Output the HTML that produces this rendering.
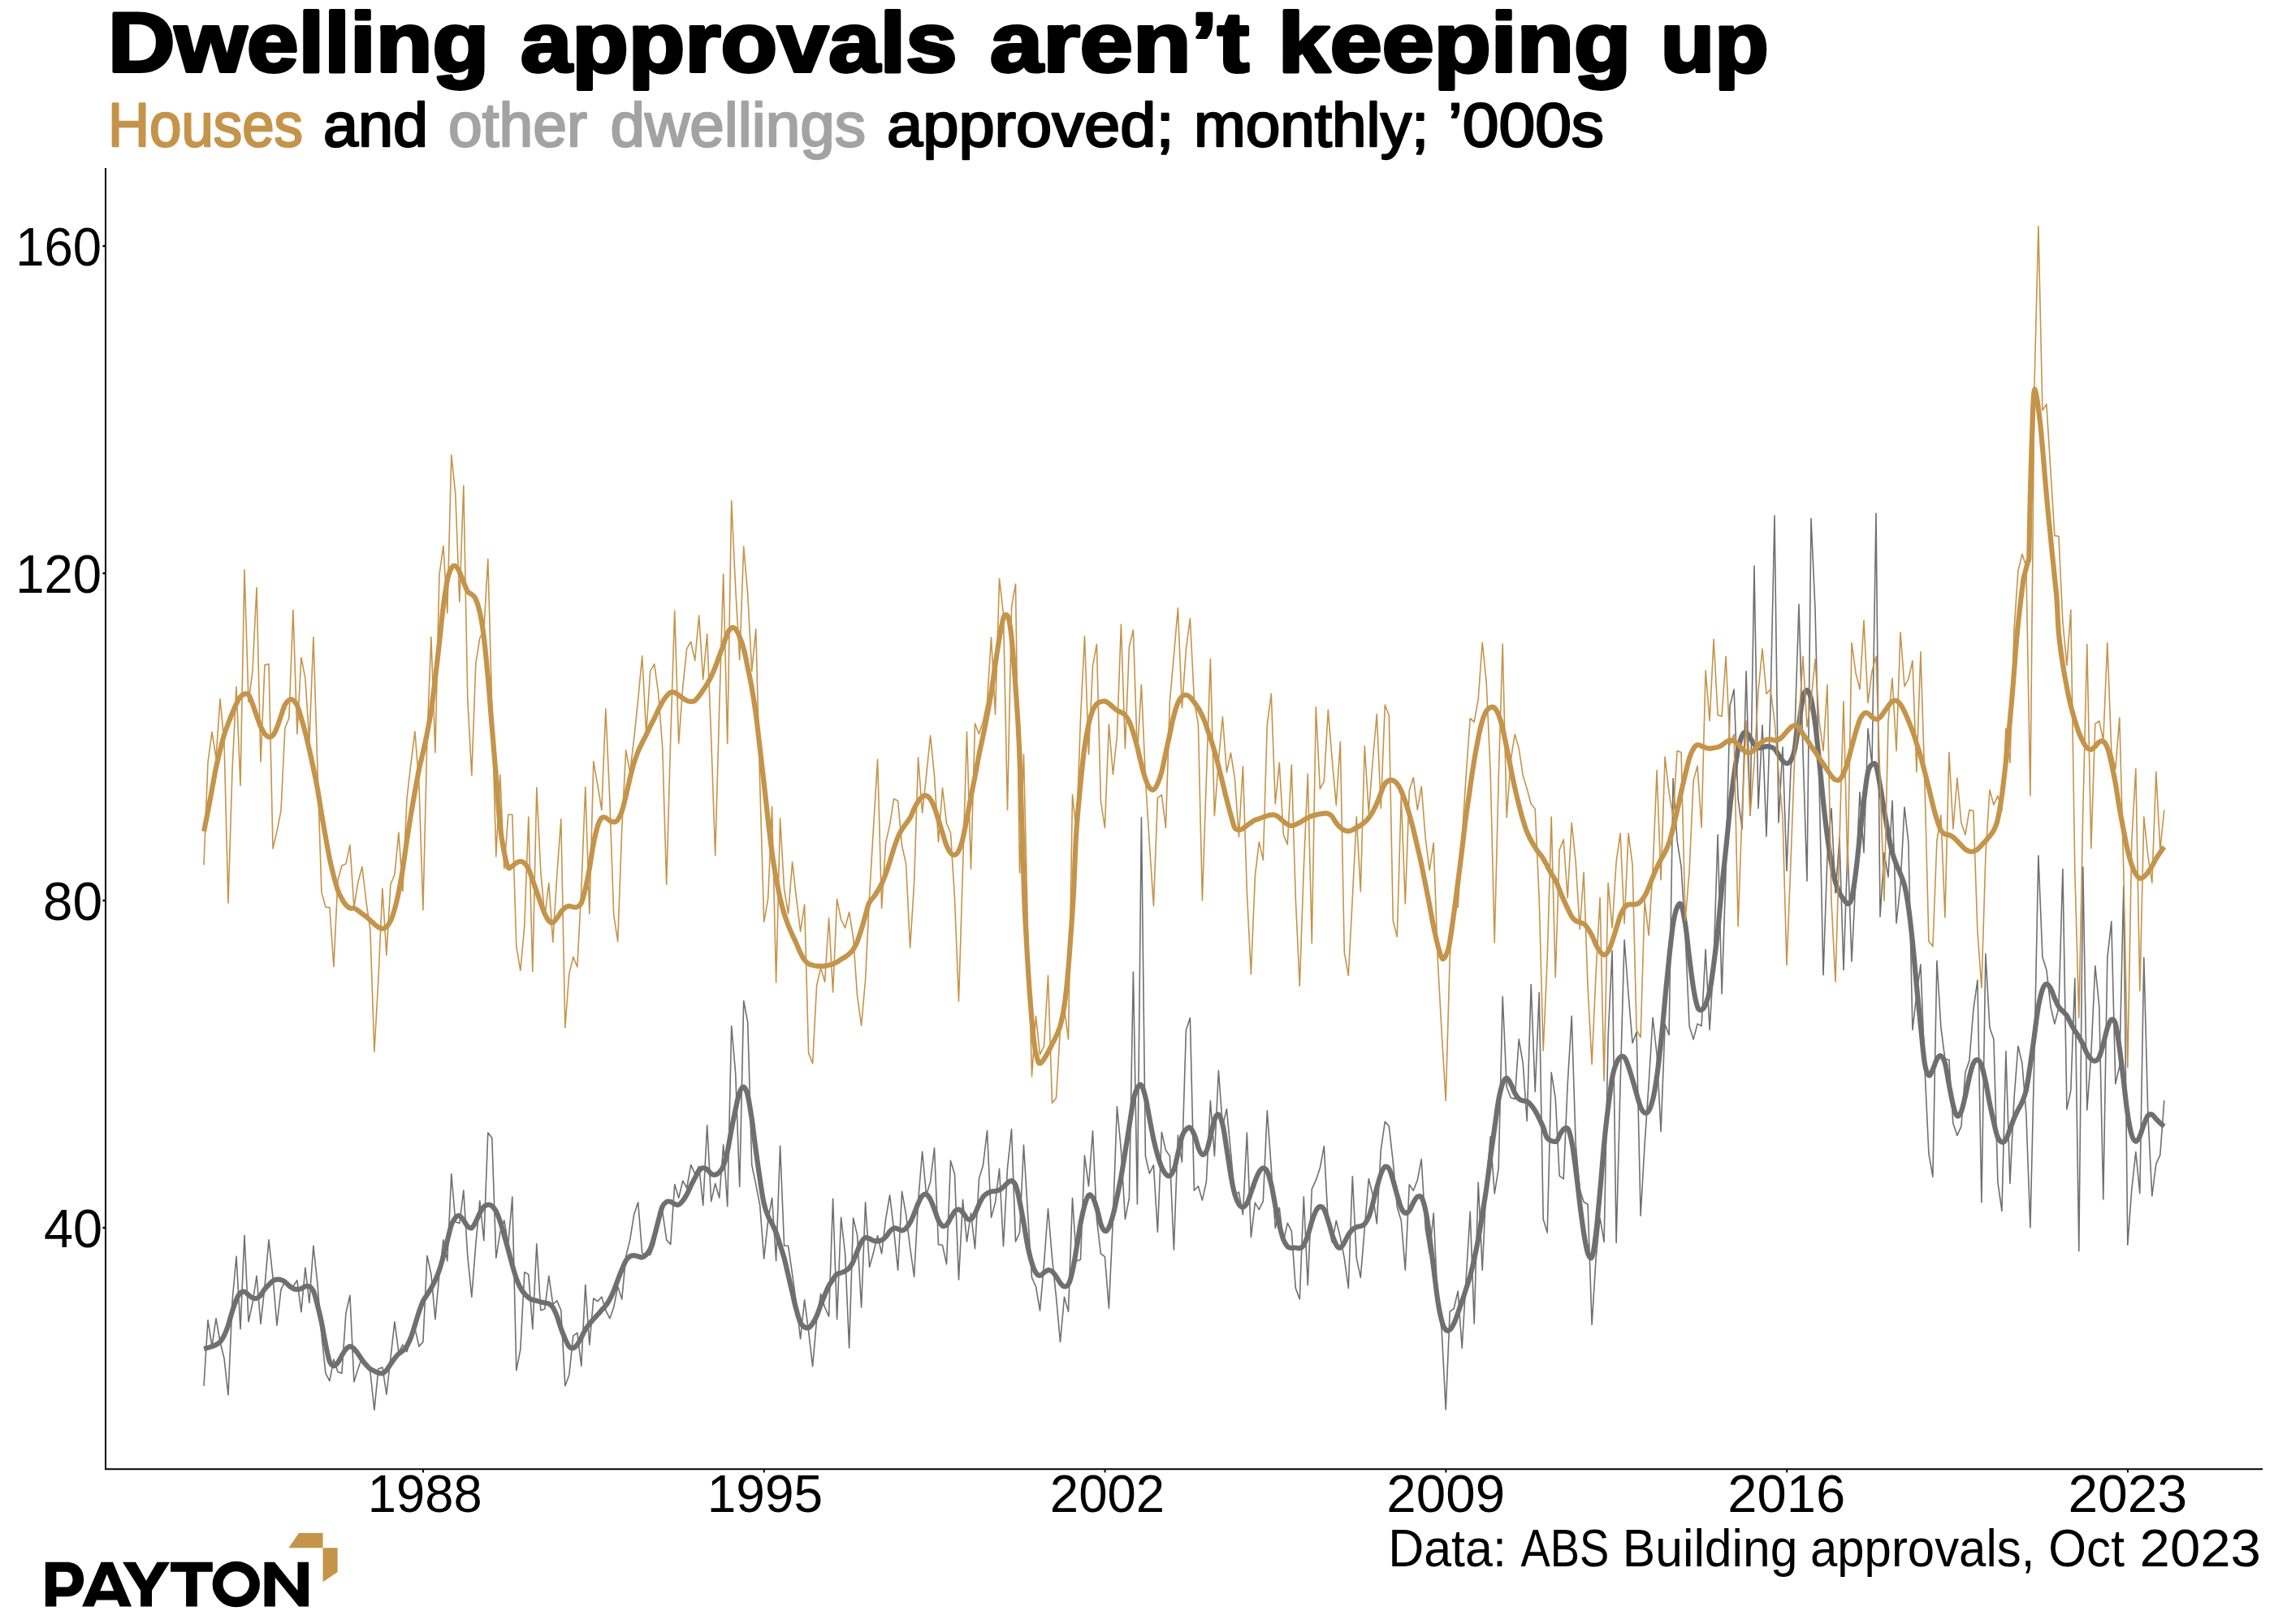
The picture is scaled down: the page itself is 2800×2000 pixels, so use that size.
<!DOCTYPE html>
<html><head><meta charset="utf-8"><title>Dwelling approvals</title>
<style>
html,body{margin:0;padding:0;background:#fff;}
body{width:2800px;height:2000px;overflow:hidden;font-family:"Liberation Sans",sans-serif;}
svg{display:block;}
svg text{font-family:"Liberation Sans",sans-serif;}
</style></head><body>
<svg width="2800" height="2000" viewBox="0 0 2800 2000">
<rect width="2800" height="2000" fill="#fff"/>
<polyline points="251.0,1706.8 256.0,1625.9 261.0,1658.1 266.0,1623.7 271.0,1652.5 276.0,1672.8 281.0,1717.9 286.0,1602.7 291.0,1547.2 296.0,1636.6 301.0,1521.4 306.0,1627.8 311.0,1604.5 316.0,1571.3 321.0,1630.4 326.0,1584.2 331.0,1526.9 336.0,1573.1 341.0,1632.2 346.0,1587.9 350.9,1578.6 355.9,1582.3 360.9,1584.2 365.9,1576.8 370.9,1615.6 375.9,1561.3 380.9,1604.5 385.9,1534.3 390.9,1580.5 395.9,1643.3 400.9,1691.3 405.9,1700.6 410.9,1674.0 415.9,1689.5 420.9,1691.3 425.9,1617.4 430.9,1595.3 435.9,1701.7 440.9,1685.8 445.9,1671.0 450.9,1680.2 455.9,1689.5 460.9,1736.4 465.9,1685.8 470.9,1683.9 475.9,1717.2 480.9,1672.8 485.9,1627.8 490.9,1665.5 495.9,1656.2 500.9,1664.7 505.9,1648.8 510.9,1635.9 515.9,1658.1 520.9,1652.5 525.9,1546.5 530.9,1569.4 535.9,1624.8 540.9,1569.4 545.9,1526.9 550.8,1552.8 555.8,1445.7 560.8,1504.8 565.8,1506.6 570.8,1466.0 575.8,1547.2 580.8,1597.1 585.8,1532.5 590.8,1478.9 595.8,1527.7 600.8,1395.0 605.8,1401.3 610.8,1549.1 615.8,1517.7 620.8,1502.9 625.8,1532.5 630.8,1474.1 635.8,1687.6 640.8,1661.8 645.8,1566.8 650.8,1569.4 655.8,1636.6 660.8,1531.7 665.8,1613.7 670.8,1611.9 675.8,1571.3 680.8,1606.4 685.8,1601.9 690.8,1613.7 695.8,1706.8 700.8,1693.2 705.8,1645.1 710.8,1641.4 715.8,1682.1 720.8,1582.3 725.8,1656.2 730.8,1599.0 735.8,1602.7 740.8,1597.1 745.8,1613.7 750.8,1623.7 755.7,1610.0 760.7,1584.2 765.7,1600.1 770.7,1547.2 775.7,1526.9 780.7,1495.5 785.7,1480.8 790.7,1543.6 795.7,1545.4 800.7,1545.4 805.7,1532.5 810.7,1506.6 815.7,1491.8 820.7,1526.9 825.7,1532.5 830.7,1458.6 835.7,1475.2 840.7,1454.2 845.7,1463.0 850.7,1434.6 855.7,1445.7 860.7,1436.4 865.7,1484.4 870.7,1385.8 875.7,1479.6 880.7,1457.5 885.7,1475.2 890.7,1409.8 895.7,1485.6 900.7,1263.5 905.7,1321.9 910.7,1461.5 915.7,1232.5 920.7,1259.1 925.7,1434.6 930.7,1458.6 935.7,1484.4 940.7,1550.2 945.7,1502.9 950.6,1475.2 955.6,1552.8 960.6,1411.3 965.6,1534.3 970.6,1534.3 975.6,1569.4 980.6,1606.4 985.6,1648.8 990.6,1600.8 995.6,1639.6 1000.6,1682.8 1005.6,1624.8 1010.6,1593.4 1015.6,1610.0 1020.6,1621.1 1025.6,1476.3 1030.6,1624.8 1035.6,1499.2 1040.6,1543.6 1045.6,1659.9 1050.6,1500.0 1055.6,1521.4 1060.6,1610.0 1065.6,1480.8 1070.6,1560.5 1075.6,1542.0 1080.6,1521.7 1085.6,1543.9 1090.6,1501.4 1095.6,1471.8 1100.6,1514.3 1105.6,1564.2 1110.6,1467.4 1115.6,1495.8 1120.6,1536.5 1125.6,1572.3 1130.6,1479.2 1135.6,1418.3 1140.6,1471.8 1145.6,1455.2 1150.5,1413.8 1155.5,1532.8 1160.5,1533.5 1165.5,1556.8 1170.5,1429.4 1175.5,1446.0 1180.5,1576.0 1185.5,1477.4 1190.5,1529.1 1195.5,1494.0 1200.5,1537.6 1205.5,1451.5 1210.5,1434.9 1215.5,1392.4 1220.5,1499.5 1225.5,1481.1 1230.5,1439.3 1235.5,1534.6 1240.5,1438.6 1245.5,1390.6 1250.5,1529.1 1255.5,1518.0 1260.5,1410.1 1265.5,1494.0 1270.5,1573.4 1275.5,1584.5 1280.5,1614.1 1285.5,1556.8 1290.5,1488.5 1295.5,1549.4 1300.5,1597.4 1305.5,1652.8 1310.5,1597.4 1315.5,1615.2 1320.5,1475.5 1325.5,1553.1 1330.5,1551.3 1335.5,1423.1 1340.5,1460.8 1345.5,1392.8 1350.4,1501.4 1355.4,1543.9 1360.4,1547.6 1365.4,1611.1 1370.4,1501.4 1375.4,1362.9 1380.4,1416.4 1385.4,1501.4 1390.4,1475.5 1395.4,1197.0 1400.4,1482.9 1405.4,1006.7 1410.4,1423.8 1415.4,1445.2 1420.4,1434.9 1425.4,1517.3 1430.4,1394.3 1435.4,1416.4 1440.4,1423.8 1445.4,1539.1 1450.4,1398.0 1455.4,1431.2 1460.4,1268.7 1465.4,1253.5 1470.4,1466.3 1475.4,1460.8 1480.4,1478.1 1485.4,1455.2 1490.4,1355.5 1495.4,1423.8 1500.4,1318.5 1505.4,1386.9 1510.4,1365.8 1515.4,1418.3 1520.4,1471.8 1525.4,1468.1 1530.4,1495.8 1535.4,1395.0 1540.4,1523.6 1545.4,1481.1 1550.3,1489.6 1555.3,1479.2 1560.3,1367.7 1565.3,1438.6 1570.3,1512.5 1575.3,1487.4 1580.3,1529.1 1585.3,1506.2 1590.3,1516.2 1595.3,1586.4 1600.3,1600.0 1605.3,1473.7 1610.3,1582.7 1615.3,1464.4 1620.3,1453.4 1625.3,1438.6 1630.3,1411.6 1635.3,1505.1 1640.3,1530.2 1645.3,1503.2 1650.3,1523.6 1655.3,1549.4 1660.3,1586.4 1665.3,1448.9 1670.3,1549.4 1675.3,1573.4 1680.3,1512.5 1685.3,1451.5 1690.3,1471.8 1695.3,1506.9 1700.3,1416.4 1705.3,1381.3 1710.3,1386.9 1715.3,1431.2 1720.3,1486.6 1725.3,1503.2 1730.3,1564.2 1735.3,1458.9 1740.3,1466.3 1745.3,1453.4 1750.2,1427.5 1755.2,1512.5 1760.2,1543.9 1765.2,1494.0 1770.2,1604.8 1775.2,1638.1 1780.2,1736.0 1785.2,1615.2 1790.2,1611.5 1795.2,1590.0 1800.2,1660.2 1805.2,1575.3 1810.2,1492.2 1815.2,1629.9 1820.2,1456.3 1825.2,1564.2 1830.2,1457.1 1835.2,1399.8 1840.2,1470.0 1845.2,1438.6 1850.2,1227.3 1855.2,1338.8 1860.2,1351.8 1865.2,1353.6 1870.2,1279.7 1875.2,1309.3 1880.2,1380.6 1885.2,1212.5 1890.2,1344.4 1895.2,1222.5 1900.2,1501.4 1905.2,1518.0 1910.2,1320.8 1915.2,1352.2 1920.2,1448.2 1925.2,1451.9 1930.2,1335.5 1935.2,1251.3 1940.2,1409.4 1945.2,1464.8 1950.1,1480.3 1955.1,1483.3 1960.1,1631.1 1965.1,1549.8 1970.1,1499.9 1975.1,1529.5 1980.1,1276.4 1985.1,1171.1 1990.1,1530.6 1995.1,1335.5 2000.1,1157.5 2005.1,1224.7 2010.1,1284.6 2015.1,1270.9 2020.1,1497.3 2025.1,1409.4 2030.1,1335.5 2035.1,1253.2 2040.1,1298.6 2045.1,1393.5 2050.1,1261.6 2055.1,1274.6 2060.1,958.7 2065.1,1035.5 2070.1,1067.7 2075.1,1150.8 2080.1,1263.5 2085.1,1280.1 2090.1,1260.9 2095.1,1263.5 2100.1,1169.3 2105.1,1268.3 2110.1,1183.3 2115.1,1028.1 2120.1,1223.9 2125.1,1072.5 2130.1,869.3 2135.1,849.0 2140.1,983.8 2145.1,1020.8 2150.1,826.8 2155.0,1004.1 2160.0,697.0 2165.0,995.5 2170.0,893.0 2175.0,1030.0 2180.0,870.0 2185.0,635.0 2190.0,1013.0 2195.0,920.0 2200.0,1072.4 2205.0,947.0 2210.0,900.0 2215.0,744.3 2220.0,925.0 2225.0,1085.0 2230.0,638.6 2235.0,750.0 2240.0,960.0 2245.0,1200.7 2250.0,1054.0 2255.0,995.5 2260.0,1100.0 2265.0,1032.0 2270.0,1194.4 2275.0,1043.0 2280.0,1184.0 2285.0,1081.7 2290.0,975.5 2295.0,1050.0 2300.0,897.3 2305.0,942.0 2310.0,632.3 2315.0,1129.0 2320.0,1050.0 2325.0,1080.0 2330.0,986.0 2335.0,1137.0 2340.0,1090.0 2345.0,994.0 2349.9,1037.5 2354.9,1268.3 2359.9,1224.7 2364.9,1187.8 2369.9,1313.4 2374.9,1420.5 2379.9,1449.3 2384.9,1183.3 2389.9,1265.3 2394.9,1304.1 2399.9,1305.2 2404.9,1383.6 2409.9,1398.3 2414.9,1387.2 2419.9,1320.8 2424.9,1306.0 2429.9,1243.2 2434.9,1207.0 2439.9,1480.7 2444.9,1174.8 2449.9,1265.3 2454.9,1280.1 2459.9,1455.6 2464.9,1491.4 2469.9,1294.9 2474.9,1457.4 2479.9,1354.0 2484.9,1288.2 2489.9,1309.7 2494.9,1372.5 2499.9,1511.7 2504.9,1298.6 2509.9,1053.7 2514.9,1178.5 2519.9,1194.4 2524.9,1239.5 2529.9,1260.9 2534.9,1241.3 2539.9,1070.3 2544.9,1366.2 2549.8,1342.9 2554.8,1205.1 2559.8,1540.6 2564.8,1067.7 2569.8,1366.9 2574.8,1298.6 2579.8,1189.6 2584.8,1239.5 2589.8,1477.0 2594.8,1179.6 2599.8,1134.9 2604.8,1334.8 2609.8,1313.4 2614.8,1091.7 2619.8,1533.2 2624.8,1464.8 2629.8,1418.6 2634.8,1469.6 2639.8,1179.3 2644.8,1372.5 2649.8,1473.0 2654.8,1433.4 2659.8,1422.3 2664.8,1355.1" fill="none" stroke="#6F6F70" stroke-width="1.6" stroke-linejoin="round" stroke-linecap="butt"/>
<path d="M251.1,1661.0C251.9,1660.8 254.2,1660.4 255.9,1659.9C257.5,1659.4 259.4,1658.7 261.0,1658.1C262.7,1657.5 264.2,1657.1 265.8,1656.2C267.5,1655.3 269.3,1654.4 271.0,1652.5C272.7,1650.7 274.1,1648.5 275.8,1645.1C277.5,1641.8 279.3,1637.1 281.0,1632.2C282.6,1627.3 284.1,1620.8 285.8,1615.6C287.4,1610.4 289.3,1604.7 291.0,1600.8C292.6,1596.9 294.1,1594.0 295.8,1592.3C297.4,1590.7 299.3,1590.5 300.9,1590.8C302.6,1591.2 304.1,1593.3 305.7,1594.5C307.4,1595.8 309.2,1597.5 310.9,1598.2C312.6,1599.0 314.0,1599.5 315.7,1599.0C317.4,1598.5 319.2,1597.1 320.9,1595.3C322.5,1593.4 324.0,1590.0 325.7,1587.9C327.3,1585.7 329.1,1584.1 330.8,1582.3C332.6,1580.6 334.4,1578.6 336.0,1577.5C337.7,1576.4 339.2,1575.9 340.8,1575.7C342.5,1575.4 344.3,1575.6 346.0,1576.1C347.7,1576.6 349.1,1577.4 350.8,1578.6C352.5,1579.9 354.3,1582.1 356.0,1583.5C357.6,1584.8 359.1,1586.0 360.8,1586.8C362.4,1587.5 364.3,1587.8 365.9,1587.9C367.6,1587.9 369.1,1587.8 370.7,1587.1C372.4,1586.5 374.3,1584.7 375.9,1584.2C377.6,1583.7 379.1,1583.3 380.7,1584.2C382.4,1585.1 384.2,1586.0 385.9,1589.7C387.6,1593.4 389.0,1599.9 390.7,1606.4C392.4,1612.8 394.2,1620.5 395.9,1628.5C397.5,1636.5 399.0,1646.4 400.7,1654.4C402.3,1662.4 404.1,1671.9 405.8,1676.5C407.6,1681.2 409.3,1681.8 411.0,1682.1C412.7,1682.4 414.2,1680.5 415.8,1678.4C417.5,1676.2 419.3,1671.9 421.0,1669.2C422.6,1666.4 424.1,1663.6 425.8,1661.8C427.5,1659.9 429.3,1658.2 431.0,1658.1C432.6,1657.9 434.1,1659.5 435.8,1661.0C437.4,1662.6 439.3,1665.0 440.9,1667.3C442.6,1669.6 444.1,1672.4 445.7,1674.7C447.4,1677.0 449.2,1679.1 450.9,1681.0C452.6,1682.8 454.0,1684.5 455.7,1685.8C457.4,1687.0 459.2,1687.6 460.9,1688.4C462.5,1689.2 464.0,1690.1 465.7,1690.6C467.3,1691.1 469.2,1691.8 470.9,1691.3C472.5,1690.8 474.0,1689.5 475.7,1687.6C477.3,1685.8 479.1,1682.7 480.8,1680.2C482.6,1677.8 484.3,1675.0 486.0,1672.8C487.7,1670.7 489.1,1668.8 490.8,1667.3C492.5,1665.8 494.3,1665.2 496.0,1663.6C497.6,1662.1 499.1,1660.8 500.8,1658.1C502.4,1655.3 504.3,1651.3 506.0,1647.0C507.6,1642.7 509.1,1637.4 510.8,1632.2C512.4,1627.0 514.3,1620.5 515.9,1615.6C517.6,1610.7 519.1,1606.2 520.7,1602.7C522.4,1599.2 524.2,1597.3 525.9,1594.5C527.6,1591.8 529.4,1589.0 531.1,1586.0C532.7,1583.1 534.2,1580.5 535.9,1576.8C537.5,1573.1 539.4,1568.8 541.0,1563.9C542.7,1558.9 544.2,1553.4 545.8,1547.2C547.5,1541.1 549.4,1533.4 551.0,1526.9C552.7,1520.5 554.2,1513.1 555.8,1508.5C557.5,1503.8 559.3,1501.1 561.0,1499.2C562.7,1497.4 564.1,1496.8 565.8,1497.4C567.5,1498.0 569.3,1500.8 571.0,1502.9C572.6,1505.1 574.1,1508.8 575.8,1510.3C577.4,1511.8 579.3,1513.1 580.9,1512.2C582.6,1511.2 584.1,1507.8 585.7,1504.8C587.4,1501.7 589.3,1496.8 590.9,1493.7C592.6,1490.6 594.1,1488.0 595.7,1486.3C597.4,1484.6 599.2,1483.9 600.9,1483.7C602.6,1483.5 604.0,1483.8 605.7,1485.2C607.4,1486.5 609.1,1488.6 610.9,1491.8C612.6,1495.1 614.4,1499.8 616.0,1504.8C617.7,1509.7 619.2,1515.5 620.8,1521.4C622.5,1527.2 624.3,1533.7 626.0,1539.9C627.7,1546.0 629.2,1552.5 630.8,1558.3C632.5,1564.2 634.3,1570.3 636.0,1575.0C637.6,1579.6 639.1,1583.0 640.8,1586.0C642.4,1589.1 644.2,1591.4 646.0,1593.4C647.7,1595.5 649.5,1597.0 651.1,1598.2C652.8,1599.5 654.3,1600.2 655.9,1600.8C657.5,1601.4 659.1,1601.5 660.7,1601.9C662.4,1602.4 664.2,1603.0 665.9,1603.4C667.6,1603.8 669.0,1604.1 670.7,1604.5C672.4,1604.9 674.2,1604.7 675.9,1605.6C677.5,1606.5 679.0,1607.5 680.7,1610.0C682.3,1612.6 684.2,1616.8 685.9,1621.1C687.5,1625.4 689.0,1631.3 690.7,1635.9C692.3,1640.5 694.2,1645.1 695.8,1648.8C697.5,1652.5 699.0,1656.2 700.6,1658.1C702.3,1660.0 704.1,1660.6 705.8,1660.3C707.5,1660.0 708.9,1658.4 710.6,1656.2C712.3,1654.0 714.1,1650.1 715.8,1647.0C717.4,1643.9 718.9,1640.5 720.6,1637.8C722.2,1635.0 724.1,1632.5 725.8,1630.4C727.4,1628.2 728.9,1626.7 730.6,1624.8C732.2,1623.0 734.1,1621.1 735.7,1619.3C737.4,1617.4 738.9,1615.6 740.5,1613.7C742.2,1611.9 744.0,1610.4 745.7,1608.2C747.4,1606.0 748.8,1603.9 750.5,1600.8C752.2,1597.7 754.0,1593.7 755.7,1589.7C757.3,1585.7 758.8,1581.1 760.5,1576.8C762.1,1572.5 764.0,1567.9 765.6,1563.9C767.3,1559.9 768.8,1555.6 770.5,1552.8C772.1,1550.0 774.0,1548.4 775.6,1547.2C777.3,1546.1 778.8,1546.1 780.4,1546.1C782.1,1546.1 783.9,1546.9 785.6,1547.2C787.3,1547.6 789.1,1548.7 790.8,1548.4C792.4,1548.0 793.9,1547.1 795.6,1545.4C797.2,1543.7 799.1,1541.7 800.7,1538.0C802.4,1534.3 803.9,1529.1 805.5,1523.2C807.2,1517.4 809.1,1509.1 810.7,1502.9C812.4,1496.8 813.9,1490.1 815.5,1486.3C817.2,1482.5 819.0,1481.1 820.7,1480.0C822.4,1479.0 823.8,1479.6 825.5,1480.0C827.2,1480.4 829.0,1482.0 830.7,1482.6C832.3,1483.2 833.8,1484.3 835.5,1483.7C837.1,1483.1 839.0,1480.9 840.6,1478.9C842.3,1476.9 843.8,1474.6 845.4,1471.5C847.1,1468.4 849.0,1463.8 850.6,1460.4C852.3,1457.0 853.8,1454.3 855.4,1451.2C857.1,1448.1 858.9,1444.1 860.6,1442.0C862.2,1439.8 863.7,1438.6 865.4,1438.3C867.1,1438.0 868.8,1438.9 870.6,1440.1C872.3,1441.3 874.1,1444.6 875.7,1445.7C877.4,1446.8 878.9,1447.1 880.5,1446.8C882.2,1446.5 884.0,1445.5 885.7,1443.8C887.4,1442.1 888.8,1440.7 890.5,1436.4C892.2,1432.1 894.0,1425.3 895.7,1418.0C897.3,1410.6 898.8,1400.7 900.5,1392.1C902.1,1383.5 904.0,1373.9 905.7,1366.2C907.3,1358.5 908.8,1350.5 910.5,1345.9C912.1,1341.3 914.0,1338.2 915.6,1338.5C917.3,1338.8 918.8,1341.3 920.4,1347.8C922.1,1354.2 923.9,1366.2 925.6,1377.3C927.3,1388.4 928.7,1401.9 930.4,1414.3C932.1,1426.6 933.9,1440.1 935.6,1451.2C937.2,1462.3 938.7,1473.1 940.4,1480.8C942.0,1488.4 943.9,1493.1 945.6,1497.4C947.2,1501.7 948.7,1503.2 950.4,1506.6C952.0,1510.0 953.9,1513.4 955.5,1517.7C957.2,1522.0 958.7,1527.2 960.3,1532.5C962.0,1537.7 963.8,1542.9 965.5,1549.1C967.2,1555.3 968.6,1562.3 970.3,1569.4C972.0,1576.5 973.8,1584.5 975.5,1591.6C977.1,1598.7 978.6,1605.7 980.3,1611.9C981.9,1618.1 983.8,1624.8 985.4,1628.5C987.1,1632.2 988.6,1633.0 990.3,1634.1C991.9,1635.2 993.8,1635.8 995.4,1635.2C997.1,1634.6 998.6,1632.7 1000.2,1630.4C1001.9,1628.0 1003.7,1624.8 1005.4,1621.1C1007.1,1617.4 1008.5,1612.5 1010.2,1608.2C1011.9,1603.9 1013.7,1599.3 1015.4,1595.3C1017.0,1591.3 1018.5,1587.4 1020.2,1584.2C1021.8,1581.0 1023.7,1578.5 1025.3,1576.1C1027.0,1573.6 1028.5,1570.8 1030.1,1569.4C1031.8,1568.0 1033.7,1568.2 1035.3,1567.6C1037.0,1566.9 1038.5,1566.6 1040.1,1565.7C1041.8,1564.8 1043.6,1563.9 1045.3,1562.0C1047.0,1560.2 1048.4,1558.0 1050.1,1554.6C1051.8,1551.2 1053.6,1545.7 1055.3,1541.7C1056.9,1537.7 1058.4,1533.5 1060.1,1530.6C1061.7,1527.7 1063.4,1525.2 1065.2,1524.3C1067.1,1523.5 1069.3,1525.2 1071.1,1525.8C1072.9,1526.4 1074.2,1527.6 1075.9,1528.0C1077.6,1528.4 1079.4,1528.5 1081.1,1528.4C1082.7,1528.2 1084.2,1528.2 1085.9,1527.2C1087.5,1526.3 1089.4,1524.7 1091.1,1522.8C1092.7,1521.0 1094.2,1517.9 1095.9,1516.2C1097.5,1514.4 1099.4,1512.9 1101.0,1512.5C1102.7,1512.0 1104.2,1513.1 1105.8,1513.6C1107.5,1514.1 1109.3,1515.6 1111.0,1515.4C1112.7,1515.2 1114.1,1514.2 1115.8,1512.5C1117.5,1510.7 1119.3,1508.2 1121.0,1505.1C1122.6,1502.0 1124.1,1498.0 1125.8,1494.0C1127.4,1490.0 1129.3,1484.6 1131.0,1481.1C1132.6,1477.5 1134.1,1474.2 1135.8,1472.6C1137.4,1470.9 1139.3,1470.3 1140.9,1471.1C1142.6,1471.9 1144.1,1474.2 1145.7,1477.4C1147.4,1480.6 1149.2,1486.0 1150.9,1490.3C1152.6,1494.6 1154.0,1500.0 1155.7,1503.2C1157.4,1506.5 1159.2,1509.1 1160.9,1509.9C1162.6,1510.7 1164.4,1509.8 1166.0,1508.0C1167.7,1506.3 1169.2,1502.3 1170.8,1499.5C1172.5,1496.8 1174.4,1493.1 1176.0,1491.4C1177.7,1489.8 1179.2,1489.1 1180.8,1489.6C1182.5,1490.0 1184.3,1492.2 1186.0,1494.0C1187.7,1495.8 1189.1,1499.4 1190.8,1500.7C1192.5,1501.9 1194.3,1502.5 1196.0,1501.4C1197.6,1500.3 1199.1,1497.2 1200.8,1494.0C1202.4,1490.8 1204.3,1485.6 1205.9,1482.2C1207.6,1478.8 1209.1,1475.8 1210.7,1473.7C1212.4,1471.5 1214.3,1470.3 1215.9,1469.3C1217.6,1468.2 1219.1,1467.8 1220.7,1467.4C1222.4,1467.0 1224.2,1467.0 1225.9,1466.7C1227.6,1466.3 1229.4,1466.0 1231.1,1465.2C1232.7,1464.3 1234.2,1463.0 1235.9,1461.5C1237.5,1460.0 1239.4,1457.6 1241.0,1456.3C1242.7,1455.1 1244.2,1453.4 1245.8,1454.1C1247.5,1454.8 1249.3,1456.3 1251.0,1460.8C1252.7,1465.2 1254.2,1473.1 1255.8,1481.1C1257.5,1489.1 1259.3,1499.5 1261.0,1508.8C1262.6,1518.0 1264.1,1528.5 1265.8,1536.5C1267.5,1544.5 1269.3,1551.6 1271.0,1556.8C1272.6,1562.0 1274.1,1565.5 1275.8,1567.9C1277.4,1570.2 1279.3,1571.0 1280.9,1570.8C1282.6,1570.7 1284.1,1568.3 1285.7,1567.1C1287.4,1566.0 1289.2,1564.4 1290.9,1564.2C1292.6,1564.0 1294.0,1564.6 1295.7,1566.0C1297.4,1567.5 1299.2,1570.2 1300.9,1572.7C1302.6,1575.1 1304.4,1578.8 1306.1,1580.8C1307.7,1582.8 1309.2,1584.5 1310.9,1584.5C1312.5,1584.5 1314.4,1584.2 1316.0,1580.8C1317.7,1577.4 1319.2,1571.9 1320.8,1564.2C1322.5,1556.5 1324.3,1544.5 1326.0,1534.6C1327.7,1524.8 1329.1,1513.7 1330.8,1505.1C1332.5,1496.5 1334.3,1488.5 1336.0,1482.9C1337.6,1477.4 1339.1,1473.1 1340.8,1471.8C1342.4,1470.6 1344.2,1472.5 1346.0,1475.5C1347.7,1478.6 1349.5,1484.8 1351.1,1490.3C1352.8,1495.8 1354.3,1504.5 1355.9,1508.8C1357.6,1513.1 1359.4,1515.9 1361.1,1516.2C1362.8,1516.5 1364.2,1514.3 1365.9,1510.6C1367.6,1506.9 1369.4,1500.5 1371.1,1494.0C1372.7,1487.5 1374.2,1479.8 1375.9,1471.8C1377.5,1463.8 1379.4,1455.2 1381.0,1446.0C1382.7,1436.7 1384.2,1426.9 1385.8,1416.4C1387.5,1406.0 1389.4,1393.6 1391.0,1383.2C1392.7,1372.7 1394.2,1361.0 1395.8,1353.6C1397.5,1346.2 1399.3,1341.6 1401.0,1338.8C1402.7,1336.1 1404.1,1334.5 1405.8,1337.0C1407.5,1339.5 1409.3,1346.5 1411.0,1353.6C1412.6,1360.7 1414.1,1370.9 1415.8,1379.5C1417.4,1388.1 1419.3,1398.0 1420.9,1405.3C1422.6,1412.7 1424.1,1418.3 1425.7,1423.8C1427.4,1429.4 1429.2,1434.8 1430.9,1438.6C1432.6,1442.4 1434.4,1445.2 1436.1,1446.7C1437.8,1448.3 1439.2,1449.2 1440.9,1447.8C1442.6,1446.5 1444.4,1443.5 1446.1,1438.6C1447.7,1433.7 1449.2,1425.0 1450.9,1418.3C1452.5,1411.5 1454.4,1402.6 1456.0,1398.0C1457.7,1393.3 1459.3,1392.1 1460.8,1390.6C1462.4,1389.0 1463.6,1387.5 1465.3,1388.7C1466.9,1389.9 1469.0,1393.6 1470.8,1398.0C1472.6,1402.3 1474.3,1410.6 1476.0,1414.6C1477.6,1418.6 1479.1,1421.7 1480.8,1422.0C1482.4,1422.3 1484.3,1420.4 1486.0,1416.4C1487.6,1412.4 1489.1,1404.4 1490.8,1398.0C1492.4,1391.5 1494.3,1381.8 1495.9,1377.6C1497.6,1373.4 1499.1,1371.3 1500.7,1372.8C1502.4,1374.4 1504.2,1379.6 1505.9,1386.9C1507.6,1394.1 1509.0,1406.0 1510.7,1416.4C1512.4,1426.9 1514.2,1440.4 1515.9,1449.7C1517.5,1458.9 1519.0,1466.2 1520.7,1471.8C1522.3,1477.5 1524.2,1481.2 1525.9,1483.7C1527.5,1486.1 1529.0,1487.0 1530.7,1486.6C1532.3,1486.2 1534.2,1484.1 1535.8,1481.1C1537.5,1478.0 1539.0,1472.8 1540.6,1468.1C1542.3,1463.5 1544.1,1457.7 1545.8,1453.4C1547.5,1449.1 1549.3,1444.7 1551.0,1442.3C1552.6,1439.8 1554.2,1438.5 1555.8,1438.6C1557.4,1438.7 1558.9,1439.3 1560.6,1443.0C1562.2,1446.7 1564.1,1453.5 1565.8,1460.8C1567.4,1468.0 1568.9,1478.3 1570.6,1486.6C1572.2,1494.9 1574.1,1503.9 1575.7,1510.6C1577.4,1517.4 1578.9,1523.1 1580.5,1527.2C1582.2,1531.4 1584.0,1533.8 1585.7,1535.4C1587.4,1537.0 1589.2,1536.7 1590.9,1536.9C1592.5,1537.0 1594.0,1536.4 1595.7,1536.5C1597.3,1536.5 1599.2,1537.8 1600.8,1537.2C1602.5,1536.6 1604.0,1535.7 1605.6,1532.8C1607.3,1529.9 1609.2,1524.8 1610.8,1519.9C1612.5,1514.9 1614.0,1508.2 1615.6,1503.2C1617.3,1498.3 1619.1,1493.2 1620.8,1490.3C1622.5,1487.4 1624.3,1485.9 1626.0,1485.9C1627.6,1485.9 1629.1,1487.1 1630.8,1490.3C1632.4,1493.5 1634.3,1499.8 1635.9,1505.1C1637.6,1510.3 1639.1,1516.9 1640.7,1521.7C1642.4,1526.5 1644.3,1531.4 1645.9,1533.9C1647.6,1536.4 1649.1,1537.3 1650.7,1536.5C1652.4,1535.7 1654.2,1531.9 1655.9,1529.1C1657.6,1526.3 1659.0,1522.4 1660.7,1519.9C1662.4,1517.3 1664.2,1515.1 1665.9,1513.6C1667.5,1512.1 1669.0,1511.6 1670.7,1511.0C1672.3,1510.4 1674.2,1510.6 1675.8,1509.9C1677.5,1509.2 1679.0,1509.0 1680.6,1506.9C1682.3,1504.9 1684.1,1502.0 1685.8,1497.7C1687.5,1493.4 1689.0,1487.2 1690.6,1481.1C1692.3,1474.9 1694.1,1466.9 1695.8,1460.8C1697.5,1454.6 1699.3,1448.1 1701.0,1444.1C1702.6,1440.1 1704.1,1437.4 1705.8,1436.7C1707.4,1436.1 1709.3,1437.4 1710.9,1440.4C1712.6,1443.5 1714.1,1449.7 1715.7,1455.2C1717.4,1460.8 1719.2,1468.1 1720.9,1473.7C1722.6,1479.2 1724.0,1485.1 1725.7,1488.5C1727.4,1491.8 1729.2,1493.7 1730.9,1494.0C1732.5,1494.3 1734.0,1492.6 1735.7,1490.3C1737.3,1488.0 1739.2,1482.7 1740.9,1480.0C1742.5,1477.2 1744.0,1474.4 1745.7,1473.7C1747.3,1472.9 1749.1,1472.1 1750.8,1475.5C1752.6,1478.9 1754.3,1485.4 1756.0,1494.0C1757.7,1502.6 1759.1,1514.9 1760.8,1527.2C1762.5,1539.6 1764.3,1555.0 1766.0,1567.9C1767.6,1580.8 1769.1,1594.7 1770.8,1604.8C1772.4,1615.0 1774.3,1623.3 1775.9,1628.8C1777.6,1634.4 1779.1,1636.7 1780.7,1638.1C1782.4,1639.5 1783.9,1638.9 1785.6,1637.3C1787.2,1635.8 1789.1,1632.4 1790.7,1628.8C1792.4,1625.3 1793.9,1620.5 1795.5,1615.9C1797.2,1611.3 1799.0,1606.1 1800.7,1601.1C1802.4,1596.2 1803.8,1591.6 1805.5,1586.4C1807.2,1581.1 1809.0,1575.9 1810.7,1569.7C1812.3,1563.6 1813.8,1557.1 1815.5,1549.4C1817.1,1541.7 1819.0,1532.8 1820.6,1523.6C1822.3,1514.3 1823.8,1504.5 1825.4,1494.0C1827.1,1483.5 1829.0,1472.5 1830.6,1460.8C1832.3,1449.1 1833.8,1436.1 1835.4,1423.8C1837.1,1411.5 1838.9,1398.6 1840.6,1386.9C1842.3,1375.2 1843.7,1362.6 1845.4,1353.6C1847.1,1344.7 1848.9,1337.6 1850.6,1333.3C1852.2,1329.0 1853.7,1327.5 1855.4,1327.8C1857.0,1328.1 1858.9,1332.1 1860.5,1335.2C1862.2,1338.2 1863.7,1343.2 1865.3,1346.2C1867.0,1349.3 1868.9,1352.1 1870.5,1353.6C1872.2,1355.2 1873.7,1355.0 1875.3,1355.5C1877.0,1356.0 1878.8,1355.7 1880.5,1356.6C1882.2,1357.5 1883.6,1359.0 1885.3,1361.0C1887.0,1363.0 1888.8,1365.6 1890.5,1368.4C1892.1,1371.2 1893.6,1374.2 1895.3,1377.6C1896.9,1381.0 1898.8,1384.7 1900.4,1388.7C1902.1,1392.7 1902.7,1398.8 1905.2,1401.6C1907.8,1404.5 1913.3,1406.6 1915.9,1405.7C1918.6,1404.9 1919.4,1399.1 1921.1,1396.5C1922.7,1393.9 1924.2,1391.1 1925.9,1390.2C1927.5,1389.3 1929.4,1387.7 1931.1,1390.9C1932.7,1394.1 1934.2,1400.2 1935.9,1409.4C1937.5,1418.6 1939.4,1433.4 1941.0,1446.4C1942.7,1459.3 1944.2,1474.1 1945.8,1487.0C1947.5,1499.9 1949.3,1514.2 1951.0,1523.9C1952.7,1533.7 1954.1,1541.7 1955.8,1545.4C1957.5,1549.1 1959.3,1551.5 1961.0,1546.1C1962.6,1540.7 1964.1,1527.6 1965.8,1512.8C1967.4,1498.1 1969.3,1475.9 1971.0,1457.4C1972.6,1439.0 1974.1,1418.6 1975.8,1402.0C1977.4,1385.4 1979.3,1370.6 1980.9,1357.7C1982.6,1344.8 1984.1,1332.8 1985.7,1324.4C1987.4,1316.1 1989.2,1311.6 1990.9,1307.8C1992.6,1304.0 1994.0,1302.3 1995.7,1301.5C1997.4,1300.7 1999.2,1300.7 2000.9,1303.0C2002.5,1305.3 2004.0,1310.4 2005.7,1315.2C2007.3,1320.0 2009.1,1326.0 2010.8,1331.8C2012.6,1337.7 2014.4,1344.8 2016.0,1350.3C2017.7,1355.8 2019.2,1361.7 2020.8,1365.1C2022.5,1368.5 2024.3,1370.3 2026.0,1370.6C2027.7,1370.9 2029.1,1370.3 2030.8,1366.9C2032.5,1363.5 2034.3,1358.0 2036.0,1350.3C2037.6,1342.6 2039.1,1333.1 2040.8,1320.8C2042.4,1308.4 2044.3,1292.4 2045.9,1276.4C2047.6,1260.4 2049.1,1241.9 2050.7,1224.7C2052.4,1207.5 2054.3,1188.1 2055.9,1173.0C2057.6,1157.9 2059.1,1143.7 2060.7,1134.2C2062.4,1124.7 2064.2,1118.8 2065.9,1115.7C2067.6,1112.7 2069.0,1111.1 2070.7,1115.7C2072.4,1120.3 2074.2,1132.0 2075.9,1143.4C2077.5,1154.8 2079.0,1171.1 2080.7,1184.1C2082.3,1197.0 2084.2,1211.5 2085.8,1221.0C2087.5,1230.6 2089.0,1237.6 2090.6,1241.3C2092.3,1245.0 2094.2,1244.1 2095.8,1243.2C2097.5,1242.3 2099.0,1240.1 2100.6,1235.8C2102.3,1231.5 2104.1,1225.9 2105.8,1217.3C2107.5,1208.7 2108.9,1197.0 2110.6,1184.1C2112.3,1171.1 2114.1,1155.7 2115.8,1139.7C2117.4,1123.7 2118.9,1104.6 2120.6,1088.0C2122.2,1071.4 2124.1,1056.1 2125.7,1040.0C2127.4,1023.9 2128.9,1006.1 2130.5,991.2C2132.2,976.3 2134.0,962.3 2135.7,950.6C2137.4,938.9 2138.9,928.7 2140.5,921.0C2142.2,913.3 2144.0,907.5 2145.7,904.4C2147.3,901.3 2148.8,901.6 2150.5,902.5C2152.1,903.5 2154.0,907.5 2155.7,909.9C2157.3,912.4 2158.8,915.5 2160.5,917.3C2162.1,919.2 2164.0,920.5 2165.6,921.0C2167.3,921.5 2168.8,920.6 2170.4,920.3C2172.1,920.0 2173.9,919.2 2175.6,919.2C2177.3,919.1 2178.7,919.3 2180.4,919.9C2182.1,920.5 2183.9,921.1 2185.6,922.9C2187.2,924.6 2188.7,927.8 2190.4,930.2C2192.0,932.7 2193.9,936.0 2195.6,937.6C2197.2,939.3 2198.7,940.5 2200.4,940.2C2202.0,939.9 2203.9,939.0 2205.5,935.8C2207.2,932.6 2208.7,929.0 2210.3,921.0C2212.0,913.0 2213.8,898.2 2215.5,887.8C2217.2,877.3 2218.6,864.5 2220.3,858.2C2222.0,851.9 2223.8,849.5 2225.5,850.1C2227.1,850.7 2228.6,854.4 2230.3,861.9C2231.9,869.4 2233.8,882.2 2235.5,895.2C2237.1,908.1 2238.6,923.5 2240.3,939.5C2241.9,955.5 2243.8,975.8 2245.4,991.2C2247.1,1006.6 2248.6,1019.5 2250.2,1031.8C2251.9,1044.1 2253.7,1055.8 2255.4,1065.1C2257.1,1074.3 2258.5,1081.4 2260.2,1087.2C2261.9,1093.1 2263.7,1096.8 2265.4,1100.2C2267.0,1103.6 2268.5,1105.4 2270.2,1107.6C2271.8,1109.7 2273.7,1113.4 2275.3,1113.1C2277.0,1112.8 2278.5,1112.5 2280.2,1105.7C2281.8,1098.9 2283.7,1085.4 2285.3,1072.5C2287.0,1059.5 2288.5,1042.9 2290.1,1028.1C2291.8,1013.4 2293.6,996.7 2295.3,983.8C2297.0,970.9 2298.4,957.6 2300.1,950.6C2301.8,943.5 2303.6,942.6 2305.3,941.3C2306.9,940.1 2308.4,938.6 2310.1,943.2C2311.7,947.8 2313.6,959.8 2315.2,969.0C2316.9,978.3 2318.4,988.7 2320.0,998.6C2321.7,1008.4 2323.6,1019.5 2325.2,1028.1C2326.9,1036.8 2328.4,1044.1 2330.0,1050.3C2331.7,1056.5 2333.5,1060.8 2335.2,1065.1C2336.9,1069.4 2338.3,1071.9 2340.0,1076.2C2341.7,1080.5 2343.5,1084.0 2345.2,1090.9C2346.8,1097.8 2348.3,1105.7 2350.0,1117.6C2351.6,1129.4 2353.5,1145.9 2355.1,1161.9C2356.8,1177.9 2358.3,1196.4 2359.9,1213.6C2361.6,1230.9 2363.5,1249.3 2365.1,1265.3C2366.8,1281.3 2368.3,1299.8 2369.9,1309.7C2371.6,1319.5 2373.4,1323.2 2375.1,1324.4C2376.8,1325.7 2378.2,1320.4 2379.9,1317.1C2381.6,1313.7 2383.4,1306.9 2385.1,1304.1C2386.7,1301.4 2388.2,1299.5 2389.9,1300.4C2391.5,1301.4 2393.4,1303.8 2395.0,1309.7C2396.7,1315.5 2398.2,1326.9 2399.8,1335.5C2401.5,1344.1 2403.4,1354.9 2405.0,1361.4C2406.7,1367.9 2408.2,1373.1 2409.8,1374.3C2411.5,1375.5 2413.3,1372.8 2415.0,1368.8C2416.6,1364.8 2418.1,1357.4 2419.8,1350.3C2421.5,1343.2 2423.3,1333.1 2425.0,1326.3C2426.6,1319.5 2428.1,1313.2 2429.8,1309.7C2431.4,1306.2 2433.3,1304.9 2434.9,1305.2C2436.6,1305.5 2438.1,1307.1 2439.7,1311.5C2441.4,1316.0 2443.2,1324.1 2444.9,1331.8C2446.6,1339.5 2448.0,1349.4 2449.7,1357.7C2451.4,1366.0 2453.2,1374.6 2454.9,1381.7C2456.5,1388.8 2458.0,1396.1 2459.7,1400.2C2461.3,1404.3 2463.2,1405.8 2464.9,1406.5C2466.5,1407.1 2468.0,1406.5 2469.7,1403.9C2471.3,1401.3 2473.2,1395.3 2474.8,1390.9C2476.5,1386.6 2478.0,1382.0 2479.6,1378.0C2481.3,1374.0 2483.1,1370.3 2484.8,1366.9C2486.5,1363.5 2487.9,1361.7 2489.6,1357.7C2491.3,1353.7 2493.1,1350.3 2494.8,1342.9C2496.4,1335.5 2497.9,1324.4 2499.6,1313.4C2501.2,1302.3 2503.1,1288.4 2504.8,1276.4C2506.4,1264.4 2507.9,1250.9 2509.6,1241.3C2511.2,1231.8 2513.1,1224.1 2514.7,1219.2C2516.4,1214.2 2517.9,1212.2 2519.5,1211.8C2521.2,1211.3 2523.0,1213.8 2524.7,1216.6C2526.4,1219.3 2527.8,1224.6 2529.5,1228.4C2531.2,1232.2 2533.0,1236.7 2534.7,1239.5C2536.3,1242.3 2537.8,1243.2 2539.5,1245.0C2541.1,1246.9 2543.0,1248.1 2544.7,1250.6C2546.3,1253.0 2547.8,1256.7 2549.5,1259.8C2551.1,1262.9 2553.0,1266.3 2554.6,1269.0C2556.3,1271.8 2557.8,1273.7 2559.4,1276.4C2561.1,1279.2 2562.9,1282.3 2564.6,1285.7C2566.3,1289.0 2567.7,1293.7 2569.4,1296.7C2571.1,1299.8 2572.9,1302.5 2574.6,1304.1C2576.2,1305.8 2577.7,1307.0 2579.4,1306.7C2581.0,1306.4 2582.9,1305.5 2584.5,1302.3C2586.2,1299.1 2587.7,1293.4 2589.3,1287.5C2591.0,1281.7 2592.9,1272.4 2594.5,1267.2C2596.2,1262.0 2597.7,1257.3 2599.3,1256.1C2601.0,1254.9 2602.8,1254.6 2604.5,1259.8C2606.2,1265.0 2607.6,1276.1 2609.3,1287.5C2611.0,1298.9 2612.8,1314.6 2614.5,1328.1C2616.1,1341.7 2617.6,1357.4 2619.3,1368.8C2620.9,1380.2 2622.7,1390.3 2624.4,1396.5C2626.2,1402.6 2628.0,1405.1 2629.6,1405.7C2631.3,1406.3 2632.8,1403.6 2634.4,1400.2C2636.1,1396.8 2637.9,1389.7 2639.6,1385.4C2641.3,1381.1 2642.7,1376.5 2644.4,1374.3C2646.1,1372.2 2647.8,1371.9 2649.6,1372.5C2651.3,1373.1 2653.1,1376.3 2654.7,1378.0C2656.4,1379.7 2657.9,1381.3 2659.5,1382.8C2661.2,1384.4 2663.8,1386.5 2664.7,1387.2" fill="none" stroke="#6F6F70" stroke-width="6.2" stroke-linejoin="round" stroke-linecap="butt"/>
<polyline points="251.0,1065.3 256.0,939.0 261.0,901.3 266.0,933.4 271.0,860.7 276.0,913.1 281.0,1111.9 286.0,948.2 291.0,845.9 296.0,967.4 301.0,701.8 306.0,864.3 311.0,826.3 316.0,723.6 321.0,938.2 326.0,818.9 331.0,817.8 336.0,1045.0 341.0,1023.9 346.0,998.1 350.9,896.5 355.9,884.3 360.9,751.3 365.9,903.9 370.9,809.7 375.9,835.5 380.9,913.1 385.9,784.6 390.9,944.5 395.9,1098.6 400.9,1117.0 405.9,1117.7 410.9,1190.5 415.9,1084.4 420.9,1066.0 425.9,1064.1 430.9,1040.9 435.9,1117.0 440.9,1086.3 445.9,1067.5 450.9,1110.3 455.9,1145.4 460.9,1295.0 465.9,1206.4 470.9,1094.4 475.9,1176.1 480.9,1089.3 485.9,1077.1 490.9,1025.3 495.9,1097.4 500.9,984.7 505.9,940.8 510.9,900.9 515.9,964.8 520.9,1120.7 525.9,909.4 530.9,784.6 535.9,926.8 540.9,708.1 545.9,672.2 550.8,755.0 555.8,560.3 560.8,608.3 565.8,741.3 570.8,598.0 575.8,861.4 580.8,954.9 585.8,817.1 590.8,785.7 595.8,776.4 600.8,688.5 605.8,872.5 610.8,1055.0 615.8,954.4 620.8,1069.7 625.8,1003.2 630.8,1003.2 635.8,1165.7 640.8,1195.3 645.8,1139.9 650.8,1006.1 655.8,1196.4 660.8,969.9 665.8,1073.4 670.8,1128.8 675.8,1087.4 680.8,1160.2 685.8,1077.1 690.8,1008.7 695.8,1265.5 700.8,1199.0 705.8,1178.6 710.8,1190.8 715.8,1095.5 720.8,969.2 725.8,1125.1 730.8,937.8 735.8,966.2 740.8,997.6 745.8,873.1 750.8,984.7 755.7,1126.9 760.7,1159.4 765.7,1021.6 770.7,923.8 775.7,951.0 780.7,909.4 785.7,861.4 790.7,807.8 795.7,903.9 800.7,826.3 805.7,817.8 810.7,854.0 815.7,920.5 820.7,1089.3 825.7,909.4 830.7,752.4 835.7,915.7 840.7,846.6 845.7,798.6 850.7,790.5 855.7,813.4 860.7,758.0 865.7,836.6 870.7,780.9 875.7,909.4 880.7,1053.5 885.7,872.5 890.7,707.0 895.7,915.7 900.7,616.8 905.7,724.7 910.7,812.6 915.7,673.0 920.7,732.1 925.7,826.3 930.7,774.9 935.7,964.8 940.7,1135.4 945.7,1106.6 950.6,993.9 955.6,1210.0 960.6,1008.0 965.6,1095.5 970.6,1125.1 975.6,1061.5 980.6,1106.6 985.6,1147.2 990.6,1114.0 995.6,1296.9 1000.6,1309.8 1005.6,1213.7 1010.6,1191.6 1015.6,1209.3 1020.6,1130.6 1025.6,1221.9 1030.6,1107.4 1035.6,1132.5 1040.6,1142.8 1045.6,1123.2 1050.6,1154.6 1055.6,1226.7 1060.6,1262.9 1065.6,1206.4 1070.6,1103.0 1075.6,1017.7 1080.6,935.3 1085.6,1118.5 1090.6,1038.0 1095.6,1015.8 1100.6,983.7 1105.6,986.3 1110.6,1041.7 1115.6,1063.9 1120.6,1167.3 1125.6,1087.9 1130.6,932.7 1135.6,1001.1 1140.6,954.9 1145.6,906.1 1150.5,954.9 1155.5,1036.9 1160.5,970.4 1165.5,1014.0 1170.5,1025.8 1175.5,1106.4 1180.5,1233.1 1185.5,1069.4 1190.5,901.3 1195.5,1070.5 1200.5,891.0 1205.5,903.9 1210.5,888.4 1215.5,864.4 1220.5,785.0 1225.5,879.9 1230.5,712.9 1235.5,755.4 1240.5,997.4 1245.5,748.0 1250.5,719.2 1255.5,1075.0 1260.5,929.0 1265.5,1143.3 1270.5,1325.7 1275.5,1251.5 1280.5,1298.6 1285.5,1288.4 1290.5,1201.2 1295.5,1358.6 1300.5,1352.2 1305.5,1267.2 1310.5,1242.2 1315.5,1280.1 1320.5,978.9 1325.5,1025.1 1330.5,884.7 1335.5,783.5 1340.5,929.0 1345.5,820.1 1350.4,793.5 1355.4,986.3 1360.4,1019.5 1365.4,892.1 1370.4,953.8 1375.4,906.9 1380.4,769.1 1385.4,921.6 1390.4,796.8 1395.4,775.7 1400.4,929.0 1405.4,843.3 1410.4,958.6 1415.4,1039.9 1420.4,1115.6 1425.4,982.6 1430.4,978.9 1435.4,1019.5 1440.4,864.4 1445.4,807.1 1450.4,748.8 1455.4,871.8 1460.4,799.7 1465.4,761.7 1470.4,862.5 1475.4,892.1 1480.4,1108.9 1485.4,958.6 1490.4,811.6 1495.4,1004.8 1500.4,936.4 1505.4,882.9 1510.4,951.2 1515.4,927.2 1520.4,958.6 1525.4,1030.6 1530.4,943.8 1535.4,1099.0 1540.4,1199.8 1545.4,1078.6 1550.3,1036.9 1555.3,1059.1 1560.3,892.1 1565.3,854.4 1570.3,990.0 1575.3,939.4 1580.3,1028.0 1585.3,1039.9 1590.3,942.0 1595.3,1106.4 1600.3,1214.2 1605.3,1069.4 1610.3,953.0 1615.3,1161.8 1620.3,870.7 1625.3,971.5 1630.3,962.3 1635.3,874.4 1640.3,936.4 1645.3,991.8 1650.3,913.5 1655.3,1172.8 1660.3,1201.3 1665.3,1106.4 1670.3,1005.9 1675.3,1097.9 1680.3,918.7 1685.3,1001.1 1690.3,936.4 1695.3,879.2 1700.3,995.5 1705.3,868.1 1710.3,881.0 1715.3,1134.1 1720.3,1153.6 1725.3,980.8 1730.3,1113.0 1735.3,973.4 1740.3,957.5 1745.3,997.4 1750.2,968.6 1755.2,1032.5 1760.2,1072.0 1765.2,1038.0 1770.2,1180.2 1775.2,1272.0 1780.2,1355.4 1785.2,1180.0 1790.2,1110.0 1795.2,1117.4 1800.2,1032.5 1805.2,954.9 1810.2,884.7 1815.2,889.1 1820.2,860.7 1825.2,791.2 1830.2,840.4 1835.2,951.2 1840.2,1160.7 1845.2,958.6 1850.2,793.1 1855.2,1006.6 1860.2,936.4 1865.2,904.3 1870.2,921.6 1875.2,954.9 1880.2,971.5 1885.2,990.0 1890.2,996.3 1895.2,1106.4 1900.2,1294.0 1905.2,1180.2 1910.2,1006.0 1915.2,1203.6 1920.2,1046.6 1925.2,1033.7 1930.2,1105.7 1935.2,1013.4 1940.2,1061.4 1945.2,1144.5 1950.1,1074.3 1955.1,1216.5 1960.1,1310.7 1965.1,1198.1 1970.1,1105.7 1975.1,1331.1 1980.1,1087.2 1985.1,1142.7 1990.1,1061.4 1995.1,1026.3 2000.1,1137.1 2005.1,1026.3 2010.1,1065.1 2015.1,1268.3 2020.1,1277.5 2025.1,1109.4 2030.1,1151.9 2035.1,1072.5 2040.1,948.7 2045.1,1083.6 2050.1,932.1 2055.1,976.4 2060.1,1006.0 2065.1,924.7 2070.1,926.6 2075.1,1133.4 2080.1,1072.5 2085.1,961.6 2090.1,943.2 2095.1,1018.9 2100.1,825.7 2105.1,887.8 2110.1,787.3 2115.1,880.4 2120.1,882.2 2125.1,808.3 2130.1,917.3 2135.1,904.4 2140.1,1140.8 2145.1,998.6 2150.1,887.8 2155.0,1004.1 2160.0,939.5 2165.0,850.8 2170.0,799.1 2175.0,854.5 2180.0,849.0 2185.0,887.8 2190.0,950.6 2195.0,1006.0 2200.0,1188.8 2205.0,1061.4 2210.0,924.7 2215.0,887.8 2220.0,808.3 2225.0,895.2 2230.0,861.9 2235.0,812.0 2240.0,887.8 2245.0,924.7 2250.0,843.4 2255.0,1109.4 2260.0,1209.2 2265.0,1035.5 2270.0,863.8 2275.0,1072.5 2280.0,791.7 2285.0,828.7 2290.0,849.0 2295.0,764.0 2300.0,865.6 2305.0,826.8 2310.0,808.3 2315.0,961.6 2320.0,1109.4 2325.0,887.8 2330.0,835.3 2335.0,924.7 2340.0,778.8 2345.0,845.3 2349.9,836.0 2354.9,813.9 2359.9,950.6 2364.9,802.8 2369.9,961.6 2374.9,1159.3 2379.9,1165.6 2384.9,1035.5 2389.9,1004.1 2394.9,1129.7 2399.9,926.6 2404.9,1020.8 2409.9,958.0 2414.9,1013.4 2419.9,1028.1 2424.9,997.5 2429.9,998.6 2434.9,1146.4 2439.9,1216.5 2444.9,1054.0 2449.9,972.7 2454.9,991.2 2459.9,980.1 2464.9,998.6 2469.9,897.0 2474.9,939.5 2479.9,776.9 2484.9,703.0 2489.9,682.4 2494.9,697.5 2499.9,980.0 2504.9,477.7 2509.9,278.8 2514.9,505.4 2519.9,497.7 2524.9,579.0 2529.9,659.6 2534.9,660.5 2539.9,765.9 2544.9,819.4 2549.8,751.1 2554.8,1072.5 2559.8,1253.5 2564.8,998.6 2569.8,793.6 2574.8,1044.8 2579.8,891.5 2584.8,887.8 2589.8,911.8 2594.8,791.7 2599.8,924.7 2604.8,946.9 2609.8,884.1 2614.8,1072.5 2619.8,1314.4 2624.8,1035.5 2629.8,946.9 2634.8,1220.2 2639.8,1006.0 2644.8,1054.0 2649.8,1087.2 2654.8,950.6 2659.8,1046.6 2664.8,997.5" fill="none" stroke="#C4944A" stroke-width="1.6" stroke-linejoin="round" stroke-linecap="butt"/>
<path d="M251.1,1023.9C251.9,1019.9 254.2,1008.5 255.9,999.9C257.5,991.3 259.4,981.1 261.0,972.2C262.7,963.3 264.2,954.4 265.8,946.4C267.5,938.3 269.3,931.0 271.0,924.2C272.7,917.4 274.1,911.3 275.8,905.7C277.5,900.2 279.3,895.6 281.0,890.9C282.7,886.3 284.5,882.0 286.2,878.0C287.8,874.0 289.4,870.2 291.0,866.9C292.6,863.7 294.1,860.5 295.8,858.4C297.4,856.4 299.2,855.2 300.9,854.7C302.7,854.3 304.4,853.8 306.1,855.8C307.8,857.9 309.2,862.6 310.9,866.9C312.6,871.2 314.4,877.1 316.1,881.7C317.7,886.3 319.2,890.9 320.9,894.6C322.5,898.3 324.4,901.7 326.0,903.9C327.7,906.0 329.2,907.3 330.8,907.6C332.5,907.9 334.4,907.6 336.0,905.7C337.7,903.9 339.2,900.5 340.8,896.5C342.5,892.5 344.3,886.4 346.0,881.7C347.7,877.0 349.1,871.3 350.8,868.0C352.5,864.8 354.3,863.1 356.0,862.1C357.6,861.1 359.1,861.0 360.8,862.1C362.4,863.2 364.3,865.2 365.9,868.8C367.6,872.3 369.1,878.0 370.7,883.6C372.4,889.1 374.2,895.3 375.9,902.0C377.6,908.8 379.4,916.8 381.1,924.2C382.8,931.6 384.2,938.3 385.9,946.4C387.6,954.4 389.4,963.0 391.1,972.2C392.7,981.4 394.2,991.9 395.9,1001.8C397.5,1011.6 399.4,1022.1 401.0,1031.3C402.7,1040.6 404.2,1049.2 405.8,1057.2C407.5,1065.2 409.3,1072.9 411.0,1079.3C412.7,1085.8 414.2,1091.3 415.8,1096.0C417.5,1100.6 419.3,1104.0 421.0,1107.0C422.6,1110.1 424.1,1112.5 425.8,1114.4C427.5,1116.3 429.3,1117.8 431.0,1118.4C432.6,1119.1 434.1,1117.9 435.8,1118.4C437.4,1118.9 439.3,1120.3 440.9,1121.4C442.6,1122.5 444.1,1123.9 445.7,1125.1C447.4,1126.3 449.2,1127.4 450.9,1128.8C452.6,1130.1 454.0,1131.7 455.7,1133.2C457.4,1134.7 459.2,1136.6 460.9,1138.0C462.5,1139.4 464.0,1140.8 465.7,1141.7C467.3,1142.6 469.2,1143.6 470.9,1143.6C472.5,1143.6 474.0,1143.2 475.7,1141.7C477.3,1140.2 479.1,1138.0 480.8,1134.3C482.6,1130.6 484.3,1125.4 486.0,1119.5C487.7,1113.7 489.1,1107.5 490.8,1099.2C492.5,1090.9 494.3,1080.1 496.0,1069.7C497.6,1059.2 499.1,1047.5 500.8,1036.4C502.4,1025.3 504.2,1013.6 506.0,1003.2C507.7,992.7 509.5,982.9 511.1,973.6C512.8,964.4 514.3,955.8 515.9,947.8C517.6,939.8 519.4,933.0 521.1,925.6C522.8,918.2 524.2,912.1 525.9,903.4C527.6,894.8 529.4,885.2 531.1,873.9C532.7,862.6 534.2,849.3 535.9,835.5C537.5,821.7 539.4,806.0 541.0,791.2C542.7,776.4 544.2,759.8 545.8,746.9C547.5,733.9 549.4,721.5 551.0,713.6C552.7,705.7 554.2,702.4 555.8,699.6C557.5,696.8 559.3,696.2 561.0,697.0C562.7,697.8 564.1,701.0 565.8,704.4C567.5,707.8 569.3,713.3 571.0,717.3C572.6,721.3 574.1,725.9 575.8,728.4C577.4,730.9 579.3,730.6 580.9,732.1C582.6,733.6 584.1,733.9 585.7,737.6C587.4,741.3 589.3,746.6 590.9,754.3C592.6,762.0 594.1,770.3 595.7,783.8C597.4,797.4 599.2,817.1 600.9,835.5C602.6,854.0 604.0,874.3 605.7,894.6C607.4,915.0 609.2,937.1 610.9,957.4C612.5,977.8 614.0,1001.2 615.7,1016.5C617.3,1031.9 619.2,1041.2 620.8,1049.8C622.5,1058.4 624.0,1065.5 625.6,1068.3C627.3,1071.0 629.2,1067.3 630.8,1066.4C632.5,1065.5 634.0,1063.6 635.6,1062.7C637.3,1061.8 639.1,1060.9 640.8,1060.9C642.4,1060.9 643.9,1061.2 645.6,1062.7C647.3,1064.3 649.1,1066.7 650.8,1070.1C652.4,1073.5 653.9,1078.4 655.6,1083.0C657.2,1087.7 659.0,1092.9 660.7,1097.8C662.5,1102.7 664.2,1108.0 665.9,1112.6C667.6,1117.1 669.0,1121.5 670.7,1125.1C672.4,1128.7 674.2,1132.5 675.9,1134.3C677.5,1136.2 679.0,1136.8 680.7,1136.2C682.3,1135.5 684.2,1132.8 685.9,1130.6C687.5,1128.5 689.0,1125.4 690.7,1123.2C692.3,1121.1 694.2,1118.9 695.8,1117.7C697.5,1116.5 699.0,1116.0 700.6,1115.8C702.3,1115.7 704.1,1116.8 705.8,1117.0C707.5,1117.1 708.9,1117.8 710.6,1117.0C712.3,1116.2 714.1,1115.7 715.8,1112.2C717.4,1108.6 718.9,1102.6 720.6,1095.5C722.2,1088.4 724.1,1078.9 725.8,1069.7C727.4,1060.4 728.9,1048.7 730.6,1040.1C732.2,1031.5 734.1,1023.4 735.7,1018.0C737.4,1012.5 738.9,1009.5 740.5,1007.6C742.2,1005.8 744.0,1006.4 745.7,1006.9C747.4,1007.4 748.8,1009.6 750.5,1010.6C752.2,1011.5 754.0,1012.5 755.7,1012.4C757.3,1012.3 758.8,1012.0 760.5,1009.8C762.1,1007.7 764.0,1004.3 765.6,999.5C767.3,994.7 768.8,987.8 770.5,981.0C772.1,974.2 774.0,965.6 775.6,958.8C777.3,952.1 778.8,945.9 780.4,940.4C782.1,934.8 783.9,929.9 785.6,925.6C787.3,921.3 789.1,917.9 790.8,914.5C792.4,911.1 793.9,908.7 795.6,905.3C797.2,901.9 799.1,897.6 800.7,894.2C802.4,890.8 803.9,888.4 805.5,885.0C807.2,881.6 809.1,877.3 810.7,873.9C812.4,870.5 813.9,867.4 815.5,864.6C817.2,861.9 819.0,859.2 820.7,857.3C822.4,855.3 823.8,853.6 825.5,852.8C827.2,852.1 828.9,852.3 830.7,852.8C832.4,853.4 834.2,855.0 835.8,856.2C837.5,857.3 839.0,858.7 840.6,859.8C842.3,861.0 844.1,862.1 845.8,862.8C847.5,863.5 849.0,863.9 850.6,863.9C852.3,863.9 854.1,863.9 855.8,862.8C857.4,861.7 858.9,859.4 860.6,857.3C862.2,855.1 864.1,852.3 865.8,849.9C867.4,847.4 868.9,845.3 870.6,842.5C872.2,839.7 874.1,836.6 875.7,833.2C877.4,829.9 878.9,826.4 880.5,822.2C882.2,817.9 884.0,812.4 885.7,807.8C887.4,803.3 888.8,799.5 890.5,794.9C892.2,790.3 894.0,783.7 895.7,780.1C897.3,776.5 898.8,774.4 900.5,773.5C902.1,772.5 904.0,772.9 905.7,774.6C907.3,776.3 908.8,779.8 910.5,783.8C912.1,787.8 914.0,792.4 915.6,798.6C917.3,804.7 918.8,812.7 920.4,820.8C922.1,828.8 923.9,836.8 925.6,846.6C927.3,856.5 929.1,867.5 930.8,879.9C932.4,892.2 933.9,906.3 935.6,920.5C937.2,934.7 939.1,950.0 940.7,964.8C942.4,979.6 943.9,994.8 945.6,1009.2C947.2,1023.6 949.1,1039.3 950.7,1051.2C952.4,1063.1 953.9,1071.5 955.5,1080.8C957.2,1090.0 959.0,1099.2 960.7,1106.6C962.4,1114.0 963.8,1119.5 965.5,1125.1C967.2,1130.6 969.0,1135.5 970.7,1139.9C972.3,1144.2 973.8,1147.2 975.5,1150.9C977.1,1154.6 979.0,1158.3 980.6,1162.0C982.3,1165.7 983.8,1169.7 985.4,1173.1C987.1,1176.5 989.0,1180.1 990.6,1182.3C992.3,1184.6 993.8,1185.7 995.4,1186.8C997.1,1187.8 998.9,1188.1 1000.6,1188.6C1002.3,1189.1 1003.7,1189.5 1005.4,1189.7C1007.1,1189.9 1008.9,1189.7 1010.6,1189.7C1012.2,1189.7 1013.7,1189.9 1015.4,1189.7C1017.0,1189.5 1018.9,1189.1 1020.5,1188.6C1022.2,1188.2 1023.7,1187.8 1025.3,1187.1C1027.0,1186.5 1028.9,1185.9 1030.5,1184.9C1032.2,1184.0 1033.7,1182.6 1035.3,1181.6C1037.0,1180.6 1038.8,1179.8 1040.5,1178.6C1042.2,1177.5 1043.6,1176.5 1045.3,1175.0C1047.0,1173.4 1048.8,1171.9 1050.5,1169.4C1052.1,1166.9 1053.6,1164.2 1055.3,1160.2C1056.9,1156.2 1058.8,1150.6 1060.4,1145.4C1062.1,1140.2 1063.6,1134.3 1065.2,1128.8C1066.8,1123.2 1068.3,1116.2 1070.0,1112.2C1071.8,1108.1 1074.1,1107.0 1075.9,1104.5C1077.7,1102.0 1079.1,1099.9 1080.7,1097.1C1082.4,1094.3 1084.2,1091.6 1085.9,1087.9C1087.6,1084.2 1089.4,1079.6 1091.1,1075.0C1092.7,1070.3 1094.2,1065.4 1095.9,1060.2C1097.5,1054.9 1099.4,1048.5 1101.0,1043.6C1102.7,1038.6 1104.2,1034.4 1105.8,1030.6C1107.5,1026.8 1109.3,1023.4 1111.0,1020.7C1112.7,1017.9 1114.1,1016.3 1115.8,1014.0C1117.5,1011.7 1119.3,1009.7 1121.0,1006.6C1122.6,1003.5 1124.1,998.9 1125.8,995.5C1127.4,992.1 1129.3,988.8 1131.0,986.3C1132.6,983.8 1134.1,981.8 1135.8,980.8C1137.4,979.7 1139.3,979.4 1140.9,980.0C1142.6,980.6 1144.1,981.9 1145.7,984.4C1147.4,987.0 1149.2,991.2 1150.9,995.5C1152.6,999.8 1154.0,1005.1 1155.7,1010.3C1157.4,1015.5 1159.2,1021.7 1160.9,1026.9C1162.5,1032.2 1164.0,1037.7 1165.7,1041.7C1167.3,1045.7 1169.2,1049.1 1170.8,1050.9C1172.5,1052.8 1174.0,1053.4 1175.7,1052.8C1177.3,1052.2 1179.2,1050.6 1180.8,1047.2C1182.5,1043.9 1184.0,1039.2 1185.6,1032.5C1187.3,1025.7 1189.1,1015.2 1190.8,1006.6C1192.5,998.0 1193.9,989.4 1195.6,980.8C1197.3,972.1 1199.1,963.5 1200.8,954.9C1202.4,946.3 1203.9,937.3 1205.6,929.0C1207.2,920.7 1209.1,913.0 1210.7,905.0C1212.4,897.0 1213.9,889.9 1215.5,881.0C1217.2,872.1 1219.1,861.9 1220.7,851.5C1222.4,841.0 1223.9,829.3 1225.5,818.2C1227.2,807.1 1229.0,794.5 1230.7,785.0C1232.4,775.4 1234.1,765.6 1235.5,761.0C1236.9,756.3 1238.1,757.0 1239.2,757.3C1240.3,757.6 1241.1,758.2 1242.1,762.8C1243.2,767.4 1244.1,770.8 1245.5,785.0C1246.9,799.1 1249.0,823.8 1250.6,847.8C1252.3,871.8 1253.7,887.0 1255.4,929.0C1257.2,971.1 1259.6,1062.3 1261.0,1100.0C1262.3,1137.7 1262.8,1138.2 1263.7,1155.4C1264.7,1172.7 1265.4,1187.1 1266.5,1203.4C1267.6,1219.8 1269.0,1239.2 1270.2,1253.3C1271.4,1267.5 1272.7,1279.8 1273.9,1288.4C1275.1,1297.0 1276.5,1301.5 1277.6,1305.1C1278.7,1308.6 1279.1,1309.7 1280.4,1309.7C1281.6,1309.7 1283.3,1307.4 1285.0,1305.1C1286.7,1302.7 1288.7,1299.2 1290.5,1295.8C1292.4,1292.4 1294.2,1288.4 1296.1,1284.7C1297.9,1281.0 1299.9,1277.6 1301.6,1273.6C1303.3,1269.6 1304.7,1266.9 1306.2,1260.7C1307.8,1254.6 1309.5,1246.2 1310.8,1236.7C1312.2,1227.2 1313.3,1217.0 1314.5,1203.4C1315.8,1189.9 1317.0,1172.7 1318.2,1155.4C1319.5,1138.2 1320.7,1121.7 1321.9,1100.0C1323.1,1078.3 1323.8,1047.4 1325.3,1025.1C1326.7,1002.7 1328.8,983.2 1330.4,966.0C1332.1,948.7 1333.6,934.0 1335.2,921.6C1336.9,909.3 1338.7,899.8 1340.4,892.1C1342.1,884.4 1343.6,879.7 1345.2,875.5C1346.9,871.3 1348.7,868.8 1350.4,867.0C1352.0,865.1 1353.5,864.9 1355.2,864.4C1356.8,863.8 1358.7,863.3 1360.4,863.6C1362.0,864.0 1363.5,865.1 1365.2,866.2C1366.8,867.4 1368.7,869.3 1370.3,870.7C1372.0,872.1 1373.5,873.6 1375.1,874.7C1376.8,875.8 1378.6,876.4 1380.3,877.3C1382.0,878.2 1383.4,878.4 1385.1,880.3C1386.8,882.1 1388.6,884.9 1390.3,888.4C1391.9,891.9 1393.4,896.1 1395.1,901.3C1396.7,906.6 1398.6,913.3 1400.3,919.8C1401.9,926.3 1403.4,933.7 1405.1,940.1C1406.7,946.6 1408.6,953.7 1410.2,958.6C1411.9,963.5 1413.4,967.3 1415.0,969.7C1416.7,972.0 1418.5,973.2 1420.2,972.6C1421.9,972.0 1423.3,969.5 1425.0,966.0C1426.7,962.4 1428.5,957.4 1430.2,951.2C1431.8,945.0 1433.3,936.7 1435.0,929.0C1436.6,921.3 1438.5,912.7 1440.2,905.0C1441.8,897.3 1443.3,889.3 1445.0,882.9C1446.6,876.4 1448.5,870.4 1450.1,866.2C1451.8,862.1 1453.3,859.8 1454.9,858.1C1456.6,856.4 1458.4,855.9 1460.1,855.9C1461.8,855.9 1463.2,856.7 1464.9,858.1C1466.6,859.5 1468.2,861.8 1470.1,864.4C1472.0,867.0 1474.3,869.9 1476.4,873.6C1478.4,877.3 1480.7,881.9 1482.6,886.6C1484.5,891.2 1486.0,896.1 1487.8,901.3C1489.6,906.6 1491.6,912.1 1493.3,918.0C1495.1,923.8 1496.8,930.0 1498.5,936.4C1500.2,942.9 1502.0,950.0 1503.7,956.7C1505.4,963.5 1506.9,970.6 1508.5,977.1C1510.1,983.5 1511.8,990.0 1513.3,995.5C1514.8,1001.1 1516.2,1006.3 1517.4,1010.3C1518.5,1014.3 1519.1,1017.6 1520.3,1019.5C1521.5,1021.5 1523.1,1021.9 1524.7,1022.1C1526.3,1022.3 1528.3,1021.5 1529.9,1020.7C1531.6,1019.8 1533.1,1018.2 1534.7,1017.0C1536.4,1015.7 1538.2,1014.4 1539.9,1013.3C1541.6,1012.2 1543.0,1011.1 1544.7,1010.3C1546.4,1009.5 1548.2,1009.1 1549.9,1008.5C1551.5,1007.8 1553.0,1007.2 1554.7,1006.6C1556.3,1006.0 1558.2,1005.3 1559.8,1004.8C1561.5,1004.3 1563.0,1003.8 1564.6,1003.7C1566.3,1003.5 1568.2,1003.2 1569.8,1003.7C1571.5,1004.1 1573.0,1005.4 1574.6,1006.6C1576.3,1007.8 1578.1,1009.7 1579.8,1011.0C1581.5,1012.4 1582.9,1013.8 1584.6,1014.7C1586.3,1015.7 1588.1,1016.8 1589.8,1017.0C1591.4,1017.1 1592.9,1016.5 1594.6,1015.8C1596.2,1015.2 1598.1,1014.2 1599.7,1013.3C1601.4,1012.3 1602.9,1011.3 1604.5,1010.3C1606.2,1009.3 1608.0,1008.2 1609.7,1007.4C1611.4,1006.5 1612.9,1005.8 1614.5,1005.1C1616.2,1004.5 1618.0,1004.1 1619.7,1003.7C1621.3,1003.2 1622.8,1002.9 1624.5,1002.5C1626.2,1002.2 1628.0,1001.9 1629.7,1001.8C1631.3,1001.7 1632.8,1001.3 1634.5,1001.8C1636.1,1002.3 1638.0,1003.0 1639.6,1004.8C1641.3,1006.5 1642.8,1009.9 1644.4,1012.2C1646.1,1014.4 1647.9,1016.8 1649.6,1018.4C1651.3,1020.1 1652.7,1021.3 1654.4,1022.1C1656.1,1023.0 1657.9,1023.5 1659.6,1023.6C1661.2,1023.7 1662.7,1023.2 1664.4,1022.5C1666.0,1021.8 1667.9,1020.5 1669.6,1019.5C1671.2,1018.6 1672.7,1018.0 1674.4,1017.0C1676.0,1015.9 1677.9,1014.7 1679.5,1013.3C1681.2,1011.8 1682.7,1010.5 1684.3,1008.5C1686.0,1006.4 1687.8,1003.8 1689.5,1001.1C1691.2,998.3 1692.6,995.5 1694.3,991.8C1696.0,988.1 1697.8,983.1 1699.5,978.9C1701.1,974.7 1702.6,969.6 1704.3,966.7C1705.9,963.8 1707.8,962.5 1709.5,961.5C1711.1,960.6 1712.6,960.4 1714.3,960.8C1715.9,961.2 1717.8,962.3 1719.4,964.1C1721.1,965.9 1722.6,968.1 1724.2,971.5C1725.9,974.9 1727.7,979.8 1729.4,984.4C1731.1,989.1 1732.5,993.7 1734.2,999.2C1735.9,1004.8 1737.7,1011.2 1739.4,1017.7C1741.0,1024.2 1742.5,1030.9 1744.2,1038.0C1745.8,1045.1 1747.7,1052.5 1749.3,1060.2C1751.0,1067.9 1752.5,1075.9 1754.2,1084.2C1755.8,1092.5 1757.7,1101.4 1759.3,1110.0C1761.0,1118.7 1762.5,1127.6 1764.1,1135.9C1765.8,1144.2 1767.9,1154.1 1769.3,1159.9C1770.7,1165.8 1771.2,1167.6 1772.3,1171.0C1773.3,1174.4 1774.4,1179.0 1775.6,1180.2C1776.7,1181.5 1777.9,1180.9 1779.3,1178.4C1780.7,1175.9 1782.4,1173.2 1784.1,1165.5C1785.7,1157.8 1787.6,1143.9 1789.2,1132.2C1790.9,1120.5 1792.4,1108.2 1794.0,1095.3C1795.7,1082.3 1797.6,1068.2 1799.2,1054.6C1800.9,1041.1 1802.4,1026.9 1804.0,1014.0C1805.7,1001.1 1807.5,988.8 1809.2,977.1C1810.9,965.4 1812.3,954.3 1814.0,943.8C1815.7,933.3 1817.5,922.9 1819.2,914.3C1820.8,905.6 1822.3,898.3 1824.0,892.1C1825.6,885.9 1827.5,880.7 1829.1,877.3C1830.8,873.9 1832.3,872.8 1833.9,871.8C1835.6,870.7 1837.5,870.1 1839.1,871.0C1840.8,872.0 1842.3,873.8 1843.9,877.3C1845.6,880.8 1847.4,885.9 1849.1,892.1C1850.8,898.3 1852.2,906.3 1853.9,914.3C1855.6,922.3 1857.4,931.8 1859.1,940.1C1860.7,948.4 1862.2,956.4 1863.9,964.1C1865.5,971.8 1867.4,979.5 1869.0,986.3C1870.7,993.1 1872.2,998.9 1873.8,1004.8C1875.5,1010.6 1877.4,1016.8 1879.0,1021.4C1880.7,1026.0 1882.2,1029.1 1883.8,1032.5C1885.5,1035.9 1887.3,1038.9 1889.0,1041.7C1890.7,1044.5 1892.1,1046.8 1893.8,1049.1C1895.5,1051.4 1897.3,1052.9 1899.0,1055.4C1900.6,1057.8 1902.2,1060.9 1903.8,1063.9C1905.4,1066.8 1906.5,1069.5 1908.6,1073.1C1910.6,1076.7 1913.8,1081.2 1915.9,1085.4C1918.0,1089.6 1919.4,1094.3 1921.1,1098.3C1922.7,1102.3 1924.2,1105.7 1925.9,1109.4C1927.5,1113.1 1929.4,1117.1 1931.1,1120.5C1932.7,1123.9 1934.2,1127.4 1935.9,1129.7C1937.5,1132.1 1939.4,1133.5 1941.0,1134.5C1942.7,1135.6 1944.2,1135.4 1945.8,1136.0C1947.5,1136.6 1949.3,1136.8 1951.0,1138.2C1952.7,1139.6 1954.1,1141.9 1955.8,1144.5C1957.5,1147.1 1959.3,1150.4 1961.0,1153.7C1962.6,1157.1 1964.1,1161.6 1965.8,1164.8C1967.4,1168.0 1969.3,1171.1 1971.0,1173.0C1972.6,1174.8 1974.1,1176.3 1975.8,1175.9C1977.4,1175.5 1979.3,1173.4 1980.9,1170.4C1982.6,1167.3 1984.1,1162.4 1985.7,1157.4C1987.4,1152.5 1989.2,1146.0 1990.9,1140.8C1992.6,1135.6 1994.0,1130.0 1995.7,1126.0C1997.4,1122.0 1999.2,1118.8 2000.9,1116.8C2002.5,1114.8 2004.0,1114.3 2005.7,1113.8C2007.3,1113.4 2009.1,1114.0 2010.8,1113.8C2012.6,1113.7 2014.4,1113.8 2016.0,1113.1C2017.7,1112.4 2019.2,1111.3 2020.8,1109.4C2022.5,1107.6 2024.3,1105.1 2026.0,1102.0C2027.7,1098.9 2029.1,1094.9 2030.8,1090.9C2032.5,1086.9 2034.3,1082.0 2036.0,1078.0C2037.6,1074.0 2039.1,1070.4 2040.8,1066.9C2042.4,1063.4 2044.3,1060.0 2045.9,1057.0C2047.6,1053.9 2049.1,1052.0 2050.7,1048.5C2052.4,1044.9 2054.3,1040.8 2055.9,1035.5C2057.6,1030.3 2059.1,1023.8 2060.7,1017.1C2062.4,1010.3 2064.2,1002.3 2065.9,994.9C2067.6,987.5 2069.0,980.1 2070.7,972.7C2072.4,965.3 2074.2,957.3 2075.9,950.6C2077.5,943.8 2079.0,937.0 2080.7,932.1C2082.3,927.2 2084.2,923.5 2085.8,921.0C2087.5,918.5 2089.0,917.6 2090.6,917.3C2092.3,917.0 2094.2,918.5 2095.8,919.2C2097.5,919.8 2099.0,920.6 2100.6,921.0C2102.3,921.4 2104.1,921.8 2105.8,921.8C2107.5,921.8 2108.9,921.3 2110.6,921.0C2112.3,920.7 2114.1,920.5 2115.8,919.9C2117.4,919.3 2118.9,918.4 2120.6,917.3C2122.2,916.3 2124.1,914.5 2125.7,913.6C2127.4,912.7 2128.9,911.9 2130.5,911.8C2132.2,911.7 2134.0,912.0 2135.7,912.9C2137.4,913.8 2138.9,915.7 2140.5,917.3C2142.2,919.0 2144.0,921.3 2145.7,922.9C2147.3,924.4 2148.8,925.9 2150.5,926.6C2152.1,927.2 2154.0,927.2 2155.7,926.6C2157.3,925.9 2158.8,924.4 2160.5,922.9C2162.1,921.3 2164.0,919.0 2165.6,917.3C2167.3,915.7 2168.8,914.0 2170.4,912.9C2172.1,911.8 2173.9,911.0 2175.6,910.7C2177.3,910.3 2178.7,910.5 2180.4,910.7C2182.1,910.9 2183.9,911.8 2185.6,911.8C2187.2,911.8 2188.7,911.6 2190.4,910.7C2192.0,909.7 2193.9,907.9 2195.6,906.2C2197.2,904.6 2198.7,902.5 2200.4,900.7C2202.0,898.8 2203.9,896.4 2205.5,895.2C2207.2,893.9 2208.7,893.0 2210.3,893.3C2212.0,893.6 2213.8,895.2 2215.5,897.0C2217.2,898.8 2218.6,901.9 2220.3,904.4C2222.0,906.9 2223.8,909.3 2225.5,911.8C2227.1,914.2 2228.6,916.7 2230.3,919.2C2231.9,921.6 2233.8,924.1 2235.5,926.6C2237.1,929.0 2238.6,931.5 2240.3,933.9C2241.9,936.4 2243.8,938.9 2245.4,941.3C2247.1,943.8 2248.6,946.3 2250.2,948.7C2251.9,951.2 2253.7,954.1 2255.4,956.1C2257.1,958.1 2258.5,959.9 2260.2,960.5C2261.9,961.2 2263.7,961.2 2265.4,959.8C2267.0,958.4 2268.5,956.1 2270.2,952.4C2271.8,948.7 2273.7,943.2 2275.3,937.6C2277.0,932.1 2278.5,925.3 2280.2,919.2C2281.8,913.0 2283.7,906.2 2285.3,900.7C2287.0,895.2 2288.5,889.6 2290.1,885.9C2291.8,882.2 2293.6,879.8 2295.3,878.5C2297.0,877.3 2298.4,877.7 2300.1,878.5C2301.8,879.3 2303.6,882.1 2305.3,883.3C2306.9,884.6 2308.4,885.9 2310.1,885.9C2311.7,885.9 2313.6,884.9 2315.2,883.3C2316.9,881.8 2318.4,879.0 2320.0,876.7C2321.7,874.3 2323.6,871.4 2325.2,869.3C2326.9,867.1 2328.4,864.8 2330.0,863.8C2331.7,862.7 2333.5,862.4 2335.2,863.0C2336.9,863.6 2338.3,865.2 2340.0,867.4C2341.7,869.7 2343.5,873.3 2345.2,876.7C2346.8,880.1 2348.3,883.8 2350.0,887.8C2351.6,891.8 2353.5,896.1 2355.1,900.7C2356.8,905.3 2358.3,910.2 2359.9,915.5C2361.6,920.7 2363.5,926.2 2365.1,932.1C2366.8,937.9 2368.3,944.1 2369.9,950.6C2371.6,957.0 2373.4,964.1 2375.1,970.9C2376.8,977.7 2378.2,984.7 2379.9,991.2C2381.6,997.7 2383.4,1004.4 2385.1,1009.7C2386.7,1014.9 2388.2,1019.6 2389.9,1022.6C2391.5,1025.6 2393.4,1026.5 2395.0,1027.4C2396.7,1028.3 2398.2,1027.5 2399.8,1028.1C2401.5,1028.8 2403.4,1029.9 2405.0,1031.1C2406.7,1032.3 2408.2,1033.9 2409.8,1035.5C2411.5,1037.2 2413.3,1039.3 2415.0,1041.1C2416.6,1042.8 2418.1,1044.6 2419.8,1045.9C2421.5,1047.1 2423.3,1048.0 2425.0,1048.5C2426.6,1048.9 2428.1,1048.9 2429.8,1048.5C2431.4,1048.0 2433.3,1047.1 2434.9,1045.9C2436.6,1044.6 2438.1,1042.8 2439.7,1041.1C2441.4,1039.3 2443.2,1037.4 2444.9,1035.5C2446.6,1033.7 2448.0,1032.1 2449.7,1030.0C2451.4,1027.8 2453.2,1026.0 2454.9,1022.6C2456.5,1019.2 2458.0,1016.8 2459.7,1009.7C2461.3,1002.6 2463.2,991.8 2464.9,980.1C2466.5,968.4 2468.0,954.9 2469.7,939.5C2471.3,924.1 2473.2,905.6 2474.8,887.8C2476.5,869.9 2478.2,850.2 2479.6,832.4C2481.1,814.5 2481.8,799.7 2483.7,780.6C2485.6,761.5 2489.2,730.4 2490.8,717.8C2492.5,705.2 2492.7,708.9 2493.6,704.9C2494.5,700.9 2495.6,696.6 2496.4,693.8C2497.1,691.0 2497.8,692.0 2498.2,688.3C2498.6,684.6 2498.3,683.7 2498.6,671.6C2498.8,659.6 2499.3,633.2 2499.7,616.2C2500.1,599.3 2500.5,585.5 2501.0,570.1C2501.4,554.7 2502.0,537.1 2502.5,523.9C2502.9,510.6 2503.3,498.0 2503.8,490.6C2504.2,483.2 2504.6,480.2 2505.2,479.6C2505.8,478.9 2506.6,482.6 2507.4,486.9C2508.3,491.3 2509.3,498.3 2510.2,505.4C2511.1,512.5 2512.1,520.2 2513.0,529.4C2513.9,538.7 2514.8,550.0 2515.8,560.8C2516.7,571.6 2517.6,583.3 2518.5,594.1C2519.5,604.8 2520.4,615.6 2521.3,625.5C2522.2,635.3 2523.1,643.9 2524.1,653.2C2525.0,662.4 2525.9,671.6 2526.8,680.9C2527.8,690.1 2528.7,699.4 2529.6,708.6C2530.5,717.8 2531.5,724.3 2532.4,736.3C2533.3,748.3 2533.8,767.1 2535.0,780.6C2536.3,794.2 2538.2,806.5 2539.8,817.6C2541.5,828.7 2543.4,838.5 2545.0,847.1C2546.7,855.7 2548.2,862.5 2549.8,869.3C2551.5,876.1 2553.3,882.2 2555.0,887.8C2556.7,893.3 2558.1,898.2 2559.8,902.5C2561.5,906.9 2563.3,910.5 2565.0,913.6C2566.6,916.7 2568.1,919.5 2569.8,921.0C2571.4,922.6 2573.3,923.2 2574.9,922.9C2576.6,922.6 2578.1,920.7 2579.7,919.2C2581.4,917.6 2583.3,914.7 2584.9,913.6C2586.6,912.6 2588.1,911.7 2589.7,912.9C2591.4,914.1 2593.2,916.6 2594.9,921.0C2596.6,925.4 2598.0,932.1 2599.7,939.5C2601.4,946.9 2603.2,956.1 2604.9,965.3C2606.5,974.6 2608.0,985.4 2609.7,994.9C2611.3,1004.4 2613.2,1014.0 2614.8,1022.6C2616.5,1031.2 2618.0,1039.5 2619.6,1046.6C2621.3,1053.7 2623.2,1060.2 2624.8,1065.1C2626.5,1070.0 2628.0,1073.4 2629.6,1076.2C2631.3,1078.9 2633.1,1081.1 2634.8,1081.7C2636.4,1082.3 2637.9,1081.1 2639.6,1079.9C2641.3,1078.6 2643.1,1076.5 2644.8,1074.3C2646.4,1072.2 2647.9,1069.7 2649.6,1066.9C2651.2,1064.2 2653.1,1060.5 2654.7,1057.7C2656.4,1054.9 2657.9,1052.8 2659.5,1050.3C2661.2,1047.8 2663.8,1044.1 2664.7,1042.9" fill="none" stroke="#C4944A" stroke-width="6.2" stroke-linejoin="round" stroke-linecap="butt"/>
<text x="132.91" y="88.0" font-size="104" font-weight="bold" fill="#000" stroke="#000" stroke-width="4" stroke-linejoin="round" textLength="469.20" lengthAdjust="spacingAndGlyphs">Dwelling</text>
<text x="640.99" y="88.0" font-size="104" font-weight="bold" fill="#000" stroke="#000" stroke-width="4" stroke-linejoin="round" textLength="537.51" lengthAdjust="spacingAndGlyphs">approvals</text>
<text x="1219.00" y="88.0" font-size="104" font-weight="bold" fill="#000" stroke="#000" stroke-width="4" stroke-linejoin="round" textLength="319.00" lengthAdjust="spacingAndGlyphs">aren’t</text>
<text x="1573.86" y="88.0" font-size="104" font-weight="bold" fill="#000" stroke="#000" stroke-width="4" stroke-linejoin="round" textLength="434.27" lengthAdjust="spacingAndGlyphs">keeping</text>
<text x="2044.81" y="88.0" font-size="104" font-weight="bold" fill="#000" stroke="#000" stroke-width="4" stroke-linejoin="round" textLength="132.78" lengthAdjust="spacingAndGlyphs">up</text>
<text x="132.91" y="180.0" font-size="76.5" font-weight="normal" fill="#C4944A" stroke="#C4944A" stroke-width="2.4" stroke-linejoin="round" textLength="240.11" lengthAdjust="spacingAndGlyphs">Houses</text>
<text x="397.92" y="180.0" font-size="76.5" font-weight="normal" fill="#000" stroke="#000" stroke-width="2.4" stroke-linejoin="round" textLength="129.21" lengthAdjust="spacingAndGlyphs">and</text>
<text x="551.98" y="180.0" font-size="76.5" font-weight="normal" fill="#A3A3A3" stroke="#A3A3A3" stroke-width="2.4" stroke-linejoin="round" textLength="171.02" lengthAdjust="spacingAndGlyphs">other</text>
<text x="751.48" y="180.0" font-size="76.5" font-weight="normal" fill="#A3A3A3" stroke="#A3A3A3" stroke-width="2.4" stroke-linejoin="round" textLength="314.55" lengthAdjust="spacingAndGlyphs">dwellings</text>
<text x="1091.96" y="180.0" font-size="76.5" font-weight="normal" fill="#000" stroke="#000" stroke-width="2.4" stroke-linejoin="round" textLength="353.66" lengthAdjust="spacingAndGlyphs">approved;</text>
<text x="1469.89" y="180.0" font-size="76.5" font-weight="normal" fill="#000" stroke="#000" stroke-width="2.4" stroke-linejoin="round" textLength="289.30" lengthAdjust="spacingAndGlyphs">monthly;</text>
<text x="1782.93" y="180.0" font-size="76.5" font-weight="normal" fill="#000" stroke="#000" stroke-width="2.4" stroke-linejoin="round" textLength="192.09" lengthAdjust="spacingAndGlyphs">’000s</text>
<line x1="130" y1="207" x2="130" y2="1810" stroke="#000" stroke-width="2"/>
<line x1="129" y1="1809.3" x2="2786" y2="1809.3" stroke="#000" stroke-width="2"/>
<line x1="126.5" y1="303.0" x2="130" y2="303.0" stroke="#000" stroke-width="2.5"/>
<text x="19.22" y="326.7" font-size="66" font-weight="normal" fill="#000" textLength="105.94" lengthAdjust="spacingAndGlyphs">160</text>
<line x1="126.5" y1="706.0" x2="130" y2="706.0" stroke="#000" stroke-width="2.5"/>
<text x="19.22" y="729.7" font-size="66" font-weight="normal" fill="#000" textLength="105.94" lengthAdjust="spacingAndGlyphs">120</text>
<line x1="126.5" y1="1109.0" x2="130" y2="1109.0" stroke="#000" stroke-width="2.5"/>
<text x="52.78" y="1132.7" font-size="66" font-weight="normal" fill="#000" textLength="73.41" lengthAdjust="spacingAndGlyphs">80</text>
<line x1="126.5" y1="1512.0" x2="130" y2="1512.0" stroke="#000" stroke-width="2.5"/>
<text x="53.90" y="1535.7" font-size="66" font-weight="normal" fill="#000" textLength="72.27" lengthAdjust="spacingAndGlyphs">40</text>
<line x1="521.0" y1="1810" x2="521.0" y2="1813.5" stroke="#000" stroke-width="2"/>
<text x="452.81" y="1861.6" font-size="64.5" font-weight="normal" fill="#000" textLength="140.81" lengthAdjust="spacingAndGlyphs">1988</text>
<line x1="940.8" y1="1810" x2="940.8" y2="1813.5" stroke="#000" stroke-width="2"/>
<text x="870.77" y="1861.6" font-size="64.5" font-weight="normal" fill="#000" textLength="142.33" lengthAdjust="spacingAndGlyphs">1995</text>
<line x1="1360.6" y1="1810" x2="1360.6" y2="1813.5" stroke="#000" stroke-width="2"/>
<text x="1292.86" y="1861.6" font-size="64.5" font-weight="normal" fill="#000" textLength="141.28" lengthAdjust="spacingAndGlyphs">2002</text>
<line x1="1780.4" y1="1810" x2="1780.4" y2="1813.5" stroke="#000" stroke-width="2"/>
<text x="1707.38" y="1861.6" font-size="64.5" font-weight="normal" fill="#000" textLength="145.75" lengthAdjust="spacingAndGlyphs">2009</text>
<line x1="2200.2" y1="1810" x2="2200.2" y2="1813.5" stroke="#000" stroke-width="2"/>
<text x="2127.37" y="1861.6" font-size="64.5" font-weight="normal" fill="#000" textLength="144.71" lengthAdjust="spacingAndGlyphs">2016</text>
<line x1="2619.9" y1="1810" x2="2619.9" y2="1813.5" stroke="#000" stroke-width="2"/>
<text x="2546.38" y="1861.6" font-size="64.5" font-weight="normal" fill="#000" textLength="146.76" lengthAdjust="spacingAndGlyphs">2023</text>
<text x="1709.14" y="1929.0" font-size="65" font-weight="normal" fill="#000" textLength="145.78" lengthAdjust="spacingAndGlyphs">Data:</text>
<text x="1872.40" y="1929.0" font-size="65" font-weight="normal" fill="#000" textLength="108.88" lengthAdjust="spacingAndGlyphs">ABS</text>
<text x="1997.80" y="1929.0" font-size="65" font-weight="normal" fill="#000" textLength="215.61" lengthAdjust="spacingAndGlyphs">Building</text>
<text x="2229.01" y="1929.0" font-size="65" font-weight="normal" fill="#000" textLength="276.32" lengthAdjust="spacingAndGlyphs">approvals,</text>
<text x="2522.23" y="1929.0" font-size="65" font-weight="normal" fill="#000" textLength="93.65" lengthAdjust="spacingAndGlyphs">Oct</text>
<text x="2634.55" y="1929.0" font-size="65" font-weight="normal" fill="#000" textLength="149.42" lengthAdjust="spacingAndGlyphs">2023</text>
<g transform="translate(30,1860) scale(0.18470)">
<path d="M140,642 L140,345 L282,345 C352,345 396,392 396,460 C396,530 350,575 282,575 L213,575 L213,642 Z M213,410 L213,512 L278,512 C305,512 322,490 322,461 C322,432 305,410 278,410 Z" fill="#000" fill-rule="evenodd"/>
<path d="M385,642 L512,345 L590,345 L715,642 L637,642 L619,598 L481,598 L463,642 Z M505,537 L597,537 L551,425 Z" fill="#000" fill-rule="evenodd"/>
<path d="M655,345 L742,345 L812,470 L885,345 L970,345 L850,535 L850,642 L775,642 L775,535 Z" fill="#000"/>
<path d="M975,345 L1255,345 L1255,410 L1152,410 L1152,642 L1078,642 L1078,410 L975,410 Z" fill="#000"/>
<path d="M1412,340 A158,153 0 1 0 1412,646 A158,153 0 1 0 1412,340 Z M1412,408 A88,85 0 1 1 1412,578 A88,85 0 1 1 1412,408 Z" fill="#000" fill-rule="evenodd"/>
<path d="M1600,642 L1600,345 L1668,345 L1822,535 L1822,345 L1895,345 L1895,642 L1830,642 L1672,448 L1672,642 Z" fill="#000"/>
<path d="M1830,152 L1990,152 L1990,250 L1762,250 Z" fill="#C4944A"/>
<path d="M1990,250 L2088,250 L2088,412 L1990,478 Z" fill="#C4944A"/>
</g>
</svg>
</body></html>
